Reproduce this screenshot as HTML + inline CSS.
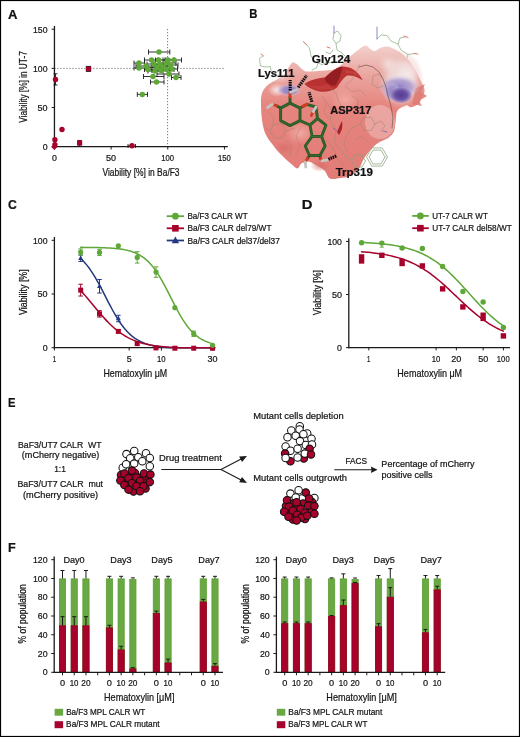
<!DOCTYPE html>
<html><head><meta charset="utf-8"><style>
html,body{margin:0;padding:0;background:#fff;}
body{width:520px;height:737px;overflow:hidden;}
svg{display:block;font-family:"Liberation Sans",sans-serif;will-change:transform;}
text{white-space:pre;stroke:#141414;stroke-width:0.22px;}
</style></head><body>
<svg width="520" height="737" viewBox="0 0 520 737">
<rect x="0" y="0" width="520" height="737" fill="#fff"/>
<text x="7.97" y="18.50" font-size="12.80" fill="#111" font-weight="bold" textLength="9.47" lengthAdjust="spacingAndGlyphs">A</text>
<line x1="54.45" y1="68.4" x2="224.44" y2="68.4" stroke="#555" stroke-width="1" stroke-dasharray="1 2"/>
<line x1="167.6" y1="29.20" x2="167.6" y2="146.70" stroke="#555" stroke-width="1" stroke-dasharray="1 2"/>
<line x1="54.45" y1="26.00" x2="54.45" y2="147.30" stroke="#1a1a1a" stroke-width="1.3" />
<line x1="53.85" y1="146.70" x2="227.80" y2="146.70" stroke="#1a1a1a" stroke-width="1.3" />
<line x1="51.65" y1="146.70" x2="54.45" y2="146.70" stroke="#1a1a1a" stroke-width="1.0" />
<line x1="54.45" y1="146.70" x2="54.45" y2="149.50" stroke="#1a1a1a" stroke-width="1.0" />
<line x1="51.65" y1="107.53" x2="54.45" y2="107.53" stroke="#1a1a1a" stroke-width="1.0" />
<line x1="111.12" y1="146.70" x2="111.12" y2="149.50" stroke="#1a1a1a" stroke-width="1.0" />
<line x1="51.65" y1="68.37" x2="54.45" y2="68.37" stroke="#1a1a1a" stroke-width="1.0" />
<line x1="167.78" y1="146.70" x2="167.78" y2="149.50" stroke="#1a1a1a" stroke-width="1.0" />
<line x1="51.65" y1="29.20" x2="54.45" y2="29.20" stroke="#1a1a1a" stroke-width="1.0" />
<line x1="224.44" y1="146.70" x2="224.44" y2="149.50" stroke="#1a1a1a" stroke-width="1.0" />
<text x="33.04" y="32.54" font-size="9.70" fill="#141414" textLength="14.50" lengthAdjust="spacingAndGlyphs">150</text>
<text x="33.04" y="71.71" font-size="9.70" fill="#141414" textLength="14.50" lengthAdjust="spacingAndGlyphs">100</text>
<text x="37.54" y="110.87" font-size="9.70" fill="#141414" textLength="10.01" lengthAdjust="spacingAndGlyphs">50</text>
<text x="42.66" y="150.04" font-size="9.70" fill="#141414" textLength="4.89" lengthAdjust="spacingAndGlyphs">0</text>
<text x="52.01" y="161.20" font-size="9.70" fill="#141414" textLength="4.89" lengthAdjust="spacingAndGlyphs">0</text>
<text x="106.10" y="161.20" font-size="9.70" fill="#141414" textLength="10.01" lengthAdjust="spacingAndGlyphs">50</text>
<text x="161.25" y="161.20" font-size="9.70" fill="#141414" textLength="12.78" lengthAdjust="spacingAndGlyphs">100</text>
<text x="217.91" y="161.20" font-size="9.70" fill="#141414" textLength="12.78" lengthAdjust="spacingAndGlyphs">150</text>
<text x="102.46" y="175.60" font-size="10.60" fill="#141414" textLength="77.11" lengthAdjust="spacingAndGlyphs">Viability [%] in Ba/F3</text>
<text x="-0.04" y="0" font-size="10.60" fill="#141414" textLength="71.35" lengthAdjust="spacingAndGlyphs" transform="translate(26.90 122.60) rotate(-90)">Viability [%] in UT-7</text>
<line x1="148.50" y1="52.00" x2="169.80" y2="52.00" stroke="#1a1a1a" stroke-width="0.9" />
<line x1="148.50" y1="49.50" x2="148.50" y2="54.50" stroke="#1a1a1a" stroke-width="0.9" />
<line x1="169.80" y1="49.50" x2="169.80" y2="54.50" stroke="#1a1a1a" stroke-width="0.9" />
<line x1="134.00" y1="63.00" x2="144.50" y2="63.00" stroke="#1a1a1a" stroke-width="0.9" />
<line x1="134.00" y1="60.50" x2="134.00" y2="65.50" stroke="#1a1a1a" stroke-width="0.9" />
<line x1="144.50" y1="60.50" x2="144.50" y2="65.50" stroke="#1a1a1a" stroke-width="0.9" />
<line x1="134.00" y1="68.00" x2="145.00" y2="68.00" stroke="#1a1a1a" stroke-width="0.9" />
<line x1="134.00" y1="65.50" x2="134.00" y2="70.50" stroke="#1a1a1a" stroke-width="0.9" />
<line x1="145.00" y1="65.50" x2="145.00" y2="70.50" stroke="#1a1a1a" stroke-width="0.9" />
<line x1="136.00" y1="66.00" x2="156.00" y2="66.00" stroke="#1a1a1a" stroke-width="0.9" />
<line x1="136.00" y1="63.50" x2="136.00" y2="68.50" stroke="#1a1a1a" stroke-width="0.9" />
<line x1="156.00" y1="63.50" x2="156.00" y2="68.50" stroke="#1a1a1a" stroke-width="0.9" />
<line x1="144.50" y1="69.50" x2="158.00" y2="69.50" stroke="#1a1a1a" stroke-width="0.9" />
<line x1="144.50" y1="67.00" x2="144.50" y2="72.00" stroke="#1a1a1a" stroke-width="0.9" />
<line x1="158.00" y1="67.00" x2="158.00" y2="72.00" stroke="#1a1a1a" stroke-width="0.9" />
<line x1="144.50" y1="60.00" x2="158.00" y2="60.00" stroke="#1a1a1a" stroke-width="0.9" />
<line x1="144.50" y1="57.50" x2="144.50" y2="62.50" stroke="#1a1a1a" stroke-width="0.9" />
<line x1="158.00" y1="57.50" x2="158.00" y2="62.50" stroke="#1a1a1a" stroke-width="0.9" />
<line x1="155.50" y1="60.00" x2="165.00" y2="60.00" stroke="#1a1a1a" stroke-width="0.9" />
<line x1="155.50" y1="57.50" x2="155.50" y2="62.50" stroke="#1a1a1a" stroke-width="0.9" />
<line x1="165.00" y1="57.50" x2="165.00" y2="62.50" stroke="#1a1a1a" stroke-width="0.9" />
<line x1="147.00" y1="64.00" x2="165.00" y2="64.00" stroke="#1a1a1a" stroke-width="0.9" />
<line x1="147.00" y1="61.50" x2="147.00" y2="66.50" stroke="#1a1a1a" stroke-width="0.9" />
<line x1="165.00" y1="61.50" x2="165.00" y2="66.50" stroke="#1a1a1a" stroke-width="0.9" />
<line x1="148.00" y1="67.50" x2="166.00" y2="67.50" stroke="#1a1a1a" stroke-width="0.9" />
<line x1="148.00" y1="65.00" x2="148.00" y2="70.00" stroke="#1a1a1a" stroke-width="0.9" />
<line x1="166.00" y1="65.00" x2="166.00" y2="70.00" stroke="#1a1a1a" stroke-width="0.9" />
<line x1="152.00" y1="64.50" x2="168.00" y2="64.50" stroke="#1a1a1a" stroke-width="0.9" />
<line x1="152.00" y1="62.00" x2="152.00" y2="67.00" stroke="#1a1a1a" stroke-width="0.9" />
<line x1="168.00" y1="62.00" x2="168.00" y2="67.00" stroke="#1a1a1a" stroke-width="0.9" />
<line x1="155.00" y1="67.00" x2="172.00" y2="67.00" stroke="#1a1a1a" stroke-width="0.9" />
<line x1="155.00" y1="64.50" x2="155.00" y2="69.50" stroke="#1a1a1a" stroke-width="0.9" />
<line x1="172.00" y1="64.50" x2="172.00" y2="69.50" stroke="#1a1a1a" stroke-width="0.9" />
<line x1="160.00" y1="63.00" x2="176.00" y2="63.00" stroke="#1a1a1a" stroke-width="0.9" />
<line x1="160.00" y1="60.50" x2="160.00" y2="65.50" stroke="#1a1a1a" stroke-width="0.9" />
<line x1="176.00" y1="60.50" x2="176.00" y2="65.50" stroke="#1a1a1a" stroke-width="0.9" />
<line x1="152.00" y1="70.50" x2="170.00" y2="70.50" stroke="#1a1a1a" stroke-width="0.9" />
<line x1="152.00" y1="68.00" x2="152.00" y2="73.00" stroke="#1a1a1a" stroke-width="0.9" />
<line x1="170.00" y1="68.00" x2="170.00" y2="73.00" stroke="#1a1a1a" stroke-width="0.9" />
<line x1="148.00" y1="71.00" x2="163.00" y2="71.00" stroke="#1a1a1a" stroke-width="0.9" />
<line x1="148.00" y1="68.50" x2="148.00" y2="73.50" stroke="#1a1a1a" stroke-width="0.9" />
<line x1="163.00" y1="68.50" x2="163.00" y2="73.50" stroke="#1a1a1a" stroke-width="0.9" />
<line x1="163.00" y1="60.00" x2="174.00" y2="60.00" stroke="#1a1a1a" stroke-width="0.9" />
<line x1="163.00" y1="57.50" x2="163.00" y2="62.50" stroke="#1a1a1a" stroke-width="0.9" />
<line x1="174.00" y1="57.50" x2="174.00" y2="62.50" stroke="#1a1a1a" stroke-width="0.9" />
<line x1="166.00" y1="60.00" x2="181.50" y2="60.00" stroke="#1a1a1a" stroke-width="0.9" />
<line x1="166.00" y1="57.50" x2="166.00" y2="62.50" stroke="#1a1a1a" stroke-width="0.9" />
<line x1="181.50" y1="57.50" x2="181.50" y2="62.50" stroke="#1a1a1a" stroke-width="0.9" />
<line x1="164.00" y1="65.00" x2="178.00" y2="65.00" stroke="#1a1a1a" stroke-width="0.9" />
<line x1="164.00" y1="62.50" x2="164.00" y2="67.50" stroke="#1a1a1a" stroke-width="0.9" />
<line x1="178.00" y1="62.50" x2="178.00" y2="67.50" stroke="#1a1a1a" stroke-width="0.9" />
<line x1="165.00" y1="69.00" x2="177.50" y2="69.00" stroke="#1a1a1a" stroke-width="0.9" />
<line x1="165.00" y1="66.50" x2="165.00" y2="71.50" stroke="#1a1a1a" stroke-width="0.9" />
<line x1="177.50" y1="66.50" x2="177.50" y2="71.50" stroke="#1a1a1a" stroke-width="0.9" />
<line x1="160.00" y1="69.50" x2="174.00" y2="69.50" stroke="#1a1a1a" stroke-width="0.9" />
<line x1="160.00" y1="67.00" x2="160.00" y2="72.00" stroke="#1a1a1a" stroke-width="0.9" />
<line x1="174.00" y1="67.00" x2="174.00" y2="72.00" stroke="#1a1a1a" stroke-width="0.9" />
<line x1="157.00" y1="74.00" x2="179.00" y2="74.00" stroke="#1a1a1a" stroke-width="0.9" />
<line x1="157.00" y1="71.50" x2="157.00" y2="76.50" stroke="#1a1a1a" stroke-width="0.9" />
<line x1="179.00" y1="71.50" x2="179.00" y2="76.50" stroke="#1a1a1a" stroke-width="0.9" />
<line x1="171.50" y1="77.50" x2="181.00" y2="77.50" stroke="#1a1a1a" stroke-width="0.9" />
<line x1="171.50" y1="75.00" x2="171.50" y2="80.00" stroke="#1a1a1a" stroke-width="0.9" />
<line x1="181.00" y1="75.00" x2="181.00" y2="80.00" stroke="#1a1a1a" stroke-width="0.9" />
<line x1="143.50" y1="76.50" x2="164.00" y2="76.50" stroke="#1a1a1a" stroke-width="0.9" />
<line x1="143.50" y1="74.00" x2="143.50" y2="79.00" stroke="#1a1a1a" stroke-width="0.9" />
<line x1="164.00" y1="74.00" x2="164.00" y2="79.00" stroke="#1a1a1a" stroke-width="0.9" />
<line x1="150.50" y1="82.00" x2="164.00" y2="82.00" stroke="#1a1a1a" stroke-width="0.9" />
<line x1="150.50" y1="79.50" x2="150.50" y2="84.50" stroke="#1a1a1a" stroke-width="0.9" />
<line x1="164.00" y1="79.50" x2="164.00" y2="84.50" stroke="#1a1a1a" stroke-width="0.9" />
<line x1="137.30" y1="94.40" x2="147.50" y2="94.40" stroke="#1a1a1a" stroke-width="0.9" />
<line x1="137.30" y1="91.90" x2="137.30" y2="96.90" stroke="#1a1a1a" stroke-width="0.9" />
<line x1="147.50" y1="91.90" x2="147.50" y2="96.90" stroke="#1a1a1a" stroke-width="0.9" />
<circle cx="159.00" cy="52.00" r="2.75" fill="#5ea838" stroke="none" stroke-width="0"/>
<circle cx="139.00" cy="63.00" r="2.75" fill="#5ea838" stroke="none" stroke-width="0"/>
<circle cx="139.00" cy="68.00" r="2.75" fill="#5ea838" stroke="none" stroke-width="0"/>
<circle cx="146.00" cy="66.00" r="2.75" fill="#5ea838" stroke="none" stroke-width="0"/>
<circle cx="148.00" cy="69.50" r="2.75" fill="#5ea838" stroke="none" stroke-width="0"/>
<circle cx="151.50" cy="60.00" r="2.75" fill="#5ea838" stroke="none" stroke-width="0"/>
<circle cx="158.50" cy="60.00" r="2.75" fill="#5ea838" stroke="none" stroke-width="0"/>
<circle cx="154.00" cy="64.00" r="2.75" fill="#5ea838" stroke="none" stroke-width="0"/>
<circle cx="157.00" cy="67.50" r="2.75" fill="#5ea838" stroke="none" stroke-width="0"/>
<circle cx="160.00" cy="64.50" r="2.75" fill="#5ea838" stroke="none" stroke-width="0"/>
<circle cx="163.00" cy="67.00" r="2.75" fill="#5ea838" stroke="none" stroke-width="0"/>
<circle cx="166.00" cy="63.00" r="2.75" fill="#5ea838" stroke="none" stroke-width="0"/>
<circle cx="161.00" cy="70.50" r="2.75" fill="#5ea838" stroke="none" stroke-width="0"/>
<circle cx="155.00" cy="71.00" r="2.75" fill="#5ea838" stroke="none" stroke-width="0"/>
<circle cx="168.00" cy="60.00" r="2.75" fill="#5ea838" stroke="none" stroke-width="0"/>
<circle cx="174.00" cy="60.00" r="2.75" fill="#5ea838" stroke="none" stroke-width="0"/>
<circle cx="170.50" cy="65.00" r="2.75" fill="#5ea838" stroke="none" stroke-width="0"/>
<circle cx="172.00" cy="69.00" r="2.75" fill="#5ea838" stroke="none" stroke-width="0"/>
<circle cx="166.50" cy="69.50" r="2.75" fill="#5ea838" stroke="none" stroke-width="0"/>
<circle cx="169.00" cy="74.00" r="2.75" fill="#5ea838" stroke="none" stroke-width="0"/>
<circle cx="176.00" cy="77.50" r="2.75" fill="#5ea838" stroke="none" stroke-width="0"/>
<circle cx="153.00" cy="76.50" r="2.75" fill="#5ea838" stroke="none" stroke-width="0"/>
<circle cx="156.50" cy="82.00" r="2.75" fill="#5ea838" stroke="none" stroke-width="0"/>
<circle cx="142.30" cy="94.40" r="2.75" fill="#5ea838" stroke="none" stroke-width="0"/>
<line x1="55.50" y1="73.80" x2="55.50" y2="85.00" stroke="#1a1a1a" stroke-width="0.9" />
<line x1="53.50" y1="73.80" x2="57.50" y2="73.80" stroke="#1a1a1a" stroke-width="0.9" />
<line x1="53.50" y1="85.00" x2="57.50" y2="85.00" stroke="#1a1a1a" stroke-width="0.9" />
<circle cx="55.50" cy="79.50" r="2.70" fill="#a6022c" stroke="none" stroke-width="0"/>
<rect x="85.80" y="66.20" width="5.40" height="5.40" fill="#a6022c" stroke="none" stroke-width="0"/>
<line x1="86.00" y1="66.40" x2="91.00" y2="66.40" stroke="#1a1a1a" stroke-width="0.8" />
<line x1="86.00" y1="71.40" x2="91.00" y2="71.40" stroke="#1a1a1a" stroke-width="0.8" />
<circle cx="62.00" cy="129.50" r="2.70" fill="#a6022c" stroke="none" stroke-width="0"/>
<circle cx="54.90" cy="139.70" r="2.70" fill="#a6022c" stroke="none" stroke-width="0"/>
<circle cx="54.90" cy="144.60" r="2.70" fill="#a6022c" stroke="none" stroke-width="0"/>
<path d="M54.3 143.7 L57.3 146.9 L54.3 150.1 L51.3 146.9 Z" fill="#a6022c"/>
<line x1="79.60" y1="140.50" x2="79.60" y2="146.00" stroke="#1a1a1a" stroke-width="0.9" />
<line x1="77.60" y1="140.50" x2="81.60" y2="140.50" stroke="#1a1a1a" stroke-width="0.9" />
<line x1="77.60" y1="146.00" x2="81.60" y2="146.00" stroke="#1a1a1a" stroke-width="0.9" />
<rect x="77.00" y="140.30" width="5.20" height="5.20" fill="#a6022c" stroke="none" stroke-width="0"/>
<line x1="128.00" y1="146.00" x2="135.50" y2="146.00" stroke="#1a1a1a" stroke-width="0.9" />
<line x1="128.00" y1="144.00" x2="128.00" y2="148.00" stroke="#1a1a1a" stroke-width="0.9" />
<line x1="135.50" y1="144.00" x2="135.50" y2="148.00" stroke="#1a1a1a" stroke-width="0.9" />
<circle cx="132.00" cy="145.80" r="2.70" fill="#a6022c" stroke="none" stroke-width="0"/>
<text x="249.24" y="18.40" font-size="12.80" fill="#111" font-weight="bold" textLength="8.17" lengthAdjust="spacingAndGlyphs">B</text>
<defs>
<linearGradient id="surfL" x1="0" y1="0" x2="0" y2="1">
<stop offset="0" stop-color="#f2d0cc"/><stop offset="0.22" stop-color="#eba6a0"/><stop offset="0.45" stop-color="#e6857f"/><stop offset="1" stop-color="#e27b76"/>
</linearGradient>
<radialGradient id="rightw" cx="0.5" cy="0.5" r="0.5">
<stop offset="0" stop-color="#f1e9e9" stop-opacity="1"/><stop offset="0.55" stop-color="#eed9d7" stop-opacity="0.9"/><stop offset="1" stop-color="#e8b5b0" stop-opacity="0"/>
</radialGradient>
<radialGradient id="purp" cx="0.5" cy="0.5" r="0.5">
<stop offset="0" stop-color="#553a92"/><stop offset="0.55" stop-color="#6a52a4"/><stop offset="0.85" stop-color="#8c7cbf" stop-opacity="0.7"/><stop offset="1" stop-color="#b9add6" stop-opacity="0"/>
</radialGradient>
<radialGradient id="purp2" cx="0.5" cy="0.5" r="0.5">
<stop offset="0" stop-color="#8f7fc2"/><stop offset="0.6" stop-color="#a898cf" stop-opacity="0.8"/><stop offset="1" stop-color="#d8d0e8" stop-opacity="0"/>
</radialGradient>
<radialGradient id="hl" cx="0.5" cy="0.5" r="0.5">
<stop offset="0" stop-color="#f2aaa3" stop-opacity="0.95"/><stop offset="1" stop-color="#f2aaa3" stop-opacity="0"/>
</radialGradient>
<radialGradient id="wh" cx="0.5" cy="0.5" r="0.5">
<stop offset="0" stop-color="#f6ecec" stop-opacity="0.95"/><stop offset="1" stop-color="#f6ecec" stop-opacity="0"/>
</radialGradient>
<radialGradient id="dk" cx="0.5" cy="0.5" r="0.5">
<stop offset="0" stop-color="#d46a66" stop-opacity="0.7"/><stop offset="1" stop-color="#d46a66" stop-opacity="0"/>
</radialGradient>
</defs>
<path d="M263.00 56.00 L259.50 58.50 L260.50 66.00 L266.00 67.00 L270.50 66.50 L271.00 72.00 L274.00 75.00" fill="none" stroke="#90ad88" stroke-width="0.75" stroke-linejoin="round" stroke-linecap="round" />
<path d="M306.00 44.00 L309.50 48.00 L311.00 56.00 L314.50 61.00 L318.00 63.00 L322.00 64.50" fill="none" stroke="#90ad88" stroke-width="0.75" stroke-linejoin="round" stroke-linecap="round" />
<path d="M318.00 63.00 L316.50 68.00 L312.00 70.00" fill="none" stroke="#90ad88" stroke-width="0.75" stroke-linejoin="round" stroke-linecap="round" />
<path d="M322.00 64.50 L327.00 62.00 L333.00 63.00" fill="none" stroke="#90ad88" stroke-width="0.75" stroke-linejoin="round" stroke-linecap="round" />
<path d="M334.00 33.00 L337.50 31.00 L341.00 35.50 L340.00 41.00 L336.00 43.50 L333.00 39.50 L334.00 33.00" fill="none" stroke="#90ad88" stroke-width="0.75" stroke-linejoin="round" stroke-linecap="round" />
<path d="M336.00 43.50 L337.00 50.00 L342.00 53.00" fill="none" stroke="#90ad88" stroke-width="0.75" stroke-linejoin="round" stroke-linecap="round" />
<path d="M326.00 52.00 L330.00 54.00 L333.00 50.00" fill="none" stroke="#90ad88" stroke-width="0.75" stroke-linejoin="round" stroke-linecap="round" />
<path d="M377.00 39.00 L381.00 35.00 L387.00 35.50 L391.00 41.00 L398.00 44.00 L401.00 50.00 L408.00 54.50 L415.00 53.50" fill="none" stroke="#90ad88" stroke-width="0.75" stroke-linejoin="round" stroke-linecap="round" />
<path d="M408.00 54.50 L406.00 61.00 L401.00 66.00 L397.00 70.50 L399.00 75.00 L395.00 80.00" fill="none" stroke="#90ad88" stroke-width="0.75" stroke-linejoin="round" stroke-linecap="round" />
<path d="M398.00 44.00 L400.00 38.00 L405.00 37.00" fill="none" stroke="#90ad88" stroke-width="0.75" stroke-linejoin="round" stroke-linecap="round" />
<path d="M342.00 53.00 L345.00 56.00" fill="none" stroke="#90ad88" stroke-width="0.75" stroke-linejoin="round" stroke-linecap="round" />
<path d="M303.50 41.50 L306.00 44.50" fill="none" stroke="#e06a5a" stroke-width="0.9" stroke-linejoin="round" stroke-linecap="round" />
<path d="M404.00 36.00 L408.00 37.50" fill="none" stroke="#e06a5a" stroke-width="0.9" stroke-linejoin="round" stroke-linecap="round" />
<path d="M261.00 54.00 L263.50 56.00" fill="none" stroke="#e06a5a" stroke-width="0.9" stroke-linejoin="round" stroke-linecap="round" />
<path d="M377.00 27.00 L377.00 39.00" fill="none" stroke="#7c7cc4" stroke-width="0.9" stroke-linejoin="round" stroke-linecap="round" />
<path d="M334.00 26.00 L334.00 33.00" fill="none" stroke="#7c7cc4" stroke-width="0.9" stroke-linejoin="round" stroke-linecap="round" />
<path d="M414.00 53.50 L418.00 54.00" fill="none" stroke="#e06a5a" stroke-width="0.9" stroke-linejoin="round" stroke-linecap="round" />
<path d="M327.00 47.00 L330.00 48.00" fill="none" stroke="#e06a5a" stroke-width="0.9" stroke-linejoin="round" stroke-linecap="round" />
<path d="M261.00 104.00 C260.92 99.83 260.92 97.58 261.50 95.00 C262.08 92.42 263.00 90.50 264.50 88.50 C266.00 86.50 268.25 84.58 270.50 83.00 C272.75 81.42 275.67 80.50 278.00 79.00 C280.33 77.50 282.75 75.92 284.50 74.00 C286.25 72.08 287.17 69.42 288.50 67.50 C289.83 65.58 291.30 63.15 292.50 62.50 C293.70 61.85 294.60 62.98 295.70 63.60 C296.80 64.22 297.63 64.97 299.10 66.20 C300.57 67.43 302.68 70.12 304.50 71.00 C306.32 71.88 307.75 71.50 310.00 71.50 C312.25 71.50 315.33 71.17 318.00 71.00 C320.67 70.83 323.33 70.75 326.00 70.50 C328.67 70.25 331.50 70.42 334.00 69.50 C336.50 68.58 338.83 66.83 341.00 65.00 C343.17 63.17 345.17 60.17 347.00 58.50 C348.83 56.83 350.17 56.42 352.00 55.00 C353.83 53.58 355.77 51.60 358.00 50.00 C360.23 48.40 363.23 45.48 365.40 45.40 C367.57 45.32 369.40 48.57 371.00 49.50 C372.60 50.43 373.50 51.25 375.00 51.00 C376.50 50.75 378.17 48.75 380.00 48.00 C381.83 47.25 384.17 46.58 386.00 46.50 C387.83 46.42 388.60 46.50 391.00 47.50 C393.40 48.50 397.48 50.38 400.40 52.50 C403.32 54.62 406.27 57.57 408.50 60.20 C410.73 62.83 412.23 65.83 413.80 68.30 C415.37 70.77 416.55 72.55 417.90 75.00 C419.25 77.45 420.78 80.32 421.90 83.00 C423.02 85.68 424.75 88.43 424.60 91.10 C424.45 93.77 421.90 96.97 421.00 99.00 C420.10 101.03 420.85 101.92 419.20 103.30 C417.55 104.68 413.28 106.95 411.10 107.30 C408.92 107.65 408.37 104.85 406.10 105.40 C403.83 105.95 399.23 108.00 397.50 110.60 C395.77 113.20 396.28 117.55 395.70 121.00 C395.12 124.45 395.15 128.57 394.00 131.30 C392.85 134.03 391.10 135.67 388.80 137.40 C386.50 139.13 382.78 140.12 380.20 141.70 C377.62 143.28 375.90 144.30 373.30 146.90 C370.70 149.50 366.92 153.83 364.60 157.30 C362.28 160.77 361.83 164.58 359.40 167.70 C356.97 170.82 353.23 174.28 350.00 176.00 C346.77 177.72 343.33 177.58 340.00 178.00 C336.67 178.42 332.63 179.80 330.00 178.50 C327.37 177.20 326.60 172.45 324.20 170.20 C321.80 167.95 318.20 166.45 315.60 165.00 C313.00 163.55 310.92 161.78 308.60 161.50 C306.28 161.22 303.57 162.15 301.70 163.30 C299.83 164.45 299.13 168.27 297.40 168.40 C295.67 168.53 294.03 166.40 291.30 164.10 C288.57 161.80 284.17 157.92 281.00 154.60 C277.83 151.28 274.90 147.67 272.30 144.20 C269.70 140.73 267.12 137.83 265.40 133.80 C263.68 129.77 262.73 124.97 262.00 120.00 C261.27 115.03 261.08 108.17 261.00 104.00 Z" fill="url(#surfL)"/>
<ellipse cx="401" cy="80" rx="23" ry="30" fill="url(#rightw)" opacity="0.95"/>
<ellipse cx="408" cy="74" rx="12" ry="14" fill="url(#wh)" opacity="0.8"/>
<ellipse cx="380" cy="122" rx="15" ry="17" fill="#efc6c1" opacity="0.5"/>
<ellipse cx="388" cy="64" rx="10" ry="9" fill="url(#wh)" opacity="0.7"/>
<ellipse cx="300" cy="133" rx="15" ry="11" fill="url(#hl)"/>
<ellipse cx="345" cy="100" rx="14" ry="12" fill="url(#hl)"/>
<ellipse cx="352" cy="70" rx="10" ry="7" fill="url(#hl)"/>
<ellipse cx="284" cy="148" rx="10" ry="7" fill="url(#dk)"/>
<ellipse cx="320" cy="166" rx="10" ry="6" fill="url(#dk)"/>
<path d="M416 88 L425 84 L421 92 L427 96 L419 101 L422 106 L412 104 Z" fill="#de7a74" opacity="0.85"/>
<ellipse cx="277" cy="90" rx="9" ry="7" fill="url(#wh)"/>
<ellipse cx="280" cy="76" rx="14" ry="8" fill="url(#wh)" opacity="0.6"/>
<ellipse cx="289" cy="90" rx="13" ry="6.5" fill="url(#purp2)"/>
<ellipse cx="290" cy="90.5" rx="7" ry="4" fill="#9484c4" opacity="0.6"/>
<ellipse cx="399" cy="87" rx="21" ry="12" fill="url(#purp2)"/>
<ellipse cx="392" cy="92" rx="9" ry="10" fill="url(#purp2)"/>
<ellipse cx="401" cy="95" rx="11.5" ry="8.5" fill="url(#purp)"/>
<path d="M359.00 67.00 L366.00 65.00 L373.00 67.00 L379.00 72.00 L383.00 79.00 L386.00 87.00 L388.00 96.00 L391.00 106.00 L393.00 118.00 L392.00 128.00" fill="none" stroke="#6e4d4d" stroke-width="0.9" stroke-linejoin="round" stroke-linecap="round" opacity="0.75"/>
<path d="M304.5 84 C310 80 318 78 324.5 77.5 C331 72 336 67.5 342.5 66.5 C350 66.5 357 69.5 363 80.5 C358 77 352 75 347 75.5 C343 78 340 83 337 87.5 C332 91.5 325 92.5 319.5 91.5 C313 90 308 87.5 304.5 84 Z" fill="#b93131"/>
<path d="M324.5 79 C330 73 335.5 68 342.5 66.5 C341.5 73 339 80 335.5 85.5 C331 86 327 84 324.5 79 Z" fill="#931d21"/>
<path d="M309 85 C315 86.5 322 86.5 328 84 L331 88 C324 91 315 90 309 85 Z" fill="#c94545" opacity="0.6"/>
<path d="M345 70 C351 70 356 72 360 76 C355 74 350 73 346 73.5 Z" fill="#cc4a4a" opacity="0.6"/>
<path d="M342 121 C343 126 342 131 339 135 L337 132 C339 128 340 124 342 121 Z" fill="#a82226"/>
<path d="M330.00 88.00 L336.00 93.00 L338.00 100.00 L342.00 108.00" fill="none" stroke="#a08672" stroke-width="0.7" stroke-linejoin="round" stroke-linecap="round" opacity="0.8"/>
<path d="M352.00 96.00 L358.00 100.00 L357.00 108.00 L363.00 112.00" fill="none" stroke="#a08672" stroke-width="0.7" stroke-linejoin="round" stroke-linecap="round" opacity="0.8"/>
<path d="M375.00 124.00 L371.25 130.50 L363.75 130.50 L360.00 124.00 L363.75 117.50 L371.25 117.50 L375.00 124.00" fill="none" stroke="#a08672" stroke-width="0.7" stroke-linejoin="round" stroke-linecap="round" opacity="0.8"/>
<path d="M375.00 124.00 L381.00 121.00 L385.00 126.00 L381.00 131.00" fill="none" stroke="#a08672" stroke-width="0.7" stroke-linejoin="round" stroke-linecap="round" opacity="0.8"/>
<path d="M360.00 124.00 L352.00 128.00 L346.00 136.00 L344.00 146.00 L348.00 152.00" fill="none" stroke="#a08672" stroke-width="0.7" stroke-linejoin="round" stroke-linecap="round" opacity="0.8"/>
<path d="M286.00 131.00 L282.00 137.93 L274.00 137.93 L270.00 131.00 L274.00 124.07 L282.00 124.07 L286.00 131.00" fill="none" stroke="#a08672" stroke-width="0.7" stroke-linejoin="round" stroke-linecap="round" opacity="0.8"/>
<path d="M270.00 131.00 L264.00 127.00" fill="none" stroke="#a08672" stroke-width="0.7" stroke-linejoin="round" stroke-linecap="round" opacity="0.8"/>
<path d="M286.00 131.00 L295.00 128.00" fill="none" stroke="#a08672" stroke-width="0.7" stroke-linejoin="round" stroke-linecap="round" opacity="0.8"/>
<path d="M383.00 79.00 L378.00 74.00 L373.00 76.00 L372.00 84.00 L378.00 88.00 L383.00 86.00" fill="none" stroke="#a08672" stroke-width="0.7" stroke-linejoin="round" stroke-linecap="round" opacity="0.8"/>
<path d="M300.00 120.00 L306.00 126.00" fill="none" stroke="#a08672" stroke-width="0.7" stroke-linejoin="round" stroke-linecap="round" opacity="0.8"/>
<path d="M325.00 100.00 L332.00 110.00 L330.00 120.00 L336.00 130.00 L334.00 142.00 L340.00 150.00" fill="none" stroke="#a08672" stroke-width="0.7" stroke-linejoin="round" stroke-linecap="round" opacity="0.8"/>
<path d="M322.00 96.00 L326.00 104.00 L324.00 112.00 L328.00 118.00" fill="none" stroke="#a07f70" stroke-width="0.6" stroke-linejoin="round" stroke-linecap="round" opacity="0.7"/>
<path d="M300.00 128.00 L296.00 136.00 L300.00 146.00 L296.00 154.00" fill="none" stroke="#a07f70" stroke-width="0.6" stroke-linejoin="round" stroke-linecap="round" opacity="0.7"/>
<path d="M268.00 112.00 L274.00 118.00 L272.00 126.00" fill="none" stroke="#a07f70" stroke-width="0.6" stroke-linejoin="round" stroke-linecap="round" opacity="0.7"/>
<path d="M345.00 86.00 L352.00 92.00 L360.00 90.00 L366.00 96.00" fill="none" stroke="#a07f70" stroke-width="0.6" stroke-linejoin="round" stroke-linecap="round" opacity="0.7"/>
<path d="M326.00 140.00 L332.00 146.00 L338.00 160.00 L344.00 166.00" fill="none" stroke="#a07f70" stroke-width="0.6" stroke-linejoin="round" stroke-linecap="round" opacity="0.7"/>
<path d="M355.00 140.00 L362.00 136.00 L368.00 142.00" fill="none" stroke="#a07f70" stroke-width="0.6" stroke-linejoin="round" stroke-linecap="round" opacity="0.7"/>
<path d="M285.00 140.00 L292.00 146.00 L290.00 156.00" fill="none" stroke="#a07f70" stroke-width="0.6" stroke-linejoin="round" stroke-linecap="round" opacity="0.7"/>
<path d="M360.00 64.00 L356.00 72.00 L352.00 80.00 L346.00 84.00" fill="none" stroke="#a07f70" stroke-width="0.6" stroke-linejoin="round" stroke-linecap="round" opacity="0.7"/>
<path d="M333.00 128.00 L337.00 131.00" fill="none" stroke="#8a60b0" stroke-width="0.9" stroke-linejoin="round" stroke-linecap="round" />
<path d="M383.00 131.00 L387.00 132.00" fill="none" stroke="#8a60b0" stroke-width="0.9" stroke-linejoin="round" stroke-linecap="round" />
<path d="M365.50 161.00 L362.00 167.06 L355.00 167.06 L351.50 161.00 L355.00 154.94 L362.00 154.94 L365.50 161.00" fill="none" stroke="#8aa27c" stroke-width="0.75" stroke-linejoin="round" stroke-linecap="round" />
<path d="M387.50 157.00 L382.25 166.09 L371.75 166.09 L366.50 157.00 L371.75 147.91 L382.25 147.91 L387.50 157.00" fill="none" stroke="#8aa27c" stroke-width="0.75" stroke-linejoin="round" stroke-linecap="round" />
<path d="M385.00 157.00 L381.00 163.93 L373.00 163.93 L369.00 157.00 L373.00 150.07 L381.00 150.07 L385.00 157.00" fill="none" stroke="#8aa27c" stroke-width="0.75" stroke-linejoin="round" stroke-linecap="round" />
<path d="M351.50 161.00 L346.00 157.00 L342.00 151.00" fill="none" stroke="#8aa27c" stroke-width="0.75" stroke-linejoin="round" stroke-linecap="round" />
<path d="M290.00 103.10 L300.00 108.10 L300.00 120.60 L290.00 125.60 L280.60 120.60 L280.60 108.10 L290.00 103.10" fill="none" stroke="#2c5a27" stroke-width="2.9" stroke-linejoin="round" stroke-linecap="round" />
<path d="M300.00 108.10 L307.00 104.30 L316.00 107.00 L317.50 118.50 L310.00 125.00 L300.00 120.60" fill="none" stroke="#2c5a27" stroke-width="2.9" stroke-linejoin="round" stroke-linecap="round" />
<path d="M310.00 125.00 L317.50 118.50 L325.90 125.20 L321.60 136.40 L312.10 136.40 L310.00 125.00" fill="none" stroke="#2c5a27" stroke-width="2.9" stroke-linejoin="round" stroke-linecap="round" />
<path d="M312.10 136.40 L321.60 136.40 L325.10 146.00 L319.90 155.50 L309.50 155.50 L305.20 146.00 L312.10 136.40" fill="none" stroke="#2c5a27" stroke-width="2.9" stroke-linejoin="round" stroke-linecap="round" />
<path d="M290.00 103.10 L290.00 97.00" fill="none" stroke="#2c5a27" stroke-width="2.9" stroke-linejoin="round" stroke-linecap="round" />
<path d="M280.60 108.10 L276.50 105.80" fill="none" stroke="#2c5a27" stroke-width="2.9" stroke-linejoin="round" stroke-linecap="round" />
<path d="M309.50 155.50 L307.50 158.50" fill="none" stroke="#2c5a27" stroke-width="2.9" stroke-linejoin="round" stroke-linecap="round" />
<path d="M319.90 155.50 L320.50 158.50" fill="none" stroke="#2c5a27" stroke-width="2.9" stroke-linejoin="round" stroke-linecap="round" />
<path d="M290.00 103.10 L300.00 108.10 L300.00 120.60 L290.00 125.60 L280.60 120.60 L280.60 108.10 L290.00 103.10" fill="none" stroke="#4a7a3c" stroke-width="0.7" stroke-linejoin="round" stroke-linecap="round" opacity="0.6"/>
<path d="M300.00 108.10 L307.00 104.30 L316.00 107.00 L317.50 118.50 L310.00 125.00 L300.00 120.60" fill="none" stroke="#4a7a3c" stroke-width="0.7" stroke-linejoin="round" stroke-linecap="round" opacity="0.6"/>
<path d="M310.00 125.00 L317.50 118.50 L325.90 125.20 L321.60 136.40 L312.10 136.40 L310.00 125.00" fill="none" stroke="#4a7a3c" stroke-width="0.7" stroke-linejoin="round" stroke-linecap="round" opacity="0.6"/>
<path d="M312.10 136.40 L321.60 136.40 L325.10 146.00 L319.90 155.50 L309.50 155.50 L305.20 146.00 L312.10 136.40" fill="none" stroke="#4a7a3c" stroke-width="0.7" stroke-linejoin="round" stroke-linecap="round" opacity="0.6"/>
<path d="M290.00 97.00 L290.00 92.50" fill="none" stroke="#d33a22" stroke-width="2.8" stroke-linejoin="round" stroke-linecap="round" />
<path d="M290.50 92.30 L296.50 89.80" fill="none" stroke="#c4c4c4" stroke-width="2.8" stroke-linejoin="round" stroke-linecap="round" />
<path d="M276.50 105.80 L272.50 104.20" fill="none" stroke="#d33a22" stroke-width="2.8" stroke-linejoin="round" stroke-linecap="round" />
<path d="M272.50 104.20 L267.50 107.50" fill="none" stroke="#c4c4c4" stroke-width="2.8" stroke-linejoin="round" stroke-linecap="round" />
<path d="M307.50 158.50 L305.20 162.00" fill="none" stroke="#d33a22" stroke-width="2.8" stroke-linejoin="round" stroke-linecap="round" />
<path d="M305.20 162.00 L305.80 167.00" fill="none" stroke="#c4c4c4" stroke-width="2.8" stroke-linejoin="round" stroke-linecap="round" />
<path d="M320.50 158.50 L321.80 160.80" fill="none" stroke="#d33a22" stroke-width="2.8" stroke-linejoin="round" stroke-linecap="round" />
<path d="M321.80 160.80 L327.50 159.80" fill="none" stroke="#c4c4c4" stroke-width="2.8" stroke-linejoin="round" stroke-linecap="round" />
<path d="M313.20 111.50 L311.30 115.50" fill="none" stroke="#d33a22" stroke-width="2.8" stroke-linejoin="round" stroke-linecap="round" />
<path d="M316.00 107.00 L313.20 111.50" fill="none" stroke="#c4c4c4" stroke-width="2.8" stroke-linejoin="round" stroke-linecap="round" />
<path d="M307.00 104.30 L303.00 106.30" fill="none" stroke="#d33a22" stroke-width="2.8" stroke-linejoin="round" stroke-linecap="round" />
<path d="M290.2 90.5 L290.2 80.0" stroke="#0d0d0d" stroke-width="3.1" stroke-dasharray="1.55 0.75" fill="none"/>
<path d="M298.2 87.3 L306.6 75.5" stroke="#0d0d0d" stroke-width="3.1" stroke-dasharray="1.55 0.75" fill="none"/>
<path d="M311.9 101.9 L309.0 92.3" stroke="#0d0d0d" stroke-width="3.1" stroke-dasharray="1.55 0.75" fill="none"/>
<path d="M328.5 159.3 L336.5 155.8" stroke="#0d0d0d" stroke-width="3.1" stroke-dasharray="1.55 0.75" fill="none"/>
<text x="257.98" y="77.20" font-size="11.00" fill="#111" font-weight="bold" textLength="36.52" lengthAdjust="spacingAndGlyphs">Lys111</text>
<text x="311.82" y="62.70" font-size="11.00" fill="#111" font-weight="bold" textLength="38.44" lengthAdjust="spacingAndGlyphs">Gly124</text>
<text x="330.22" y="113.60" font-size="11.00" fill="#111" font-weight="bold" textLength="41.16" lengthAdjust="spacingAndGlyphs">ASP317</text>
<text x="335.67" y="175.50" font-size="11.00" fill="#111" font-weight="bold" textLength="37.15" lengthAdjust="spacingAndGlyphs">Trp319</text>
<text x="7.90" y="208.60" font-size="12.80" fill="#111" font-weight="bold" textLength="8.84" lengthAdjust="spacingAndGlyphs">C</text>
<line x1="54.40" y1="237.00" x2="54.40" y2="348.30" stroke="#1a1a1a" stroke-width="1.3" />
<line x1="53.80" y1="347.70" x2="215.50" y2="347.70" stroke="#1a1a1a" stroke-width="1.3" />
<line x1="51.60" y1="347.70" x2="54.40" y2="347.70" stroke="#1a1a1a" stroke-width="1.0" />
<line x1="51.60" y1="294.00" x2="54.40" y2="294.00" stroke="#1a1a1a" stroke-width="1.0" />
<line x1="51.60" y1="240.30" x2="54.40" y2="240.30" stroke="#1a1a1a" stroke-width="1.0" />
<line x1="54.40" y1="347.70" x2="54.40" y2="350.50" stroke="#1a1a1a" stroke-width="1.0" />
<line x1="129.19" y1="347.70" x2="129.19" y2="350.50" stroke="#1a1a1a" stroke-width="1.0" />
<line x1="161.40" y1="347.70" x2="161.40" y2="350.50" stroke="#1a1a1a" stroke-width="1.0" />
<line x1="212.45" y1="347.70" x2="212.45" y2="350.50" stroke="#1a1a1a" stroke-width="1.0" />
<text x="33.04" y="243.64" font-size="9.70" fill="#141414" textLength="14.50" lengthAdjust="spacingAndGlyphs">100</text>
<text x="37.54" y="297.34" font-size="9.70" fill="#141414" textLength="10.01" lengthAdjust="spacingAndGlyphs">50</text>
<text x="42.66" y="351.04" font-size="9.70" fill="#141414" textLength="4.89" lengthAdjust="spacingAndGlyphs">0</text>
<text x="52.64" y="361.70" font-size="9.70" fill="#141414" textLength="3.35" lengthAdjust="spacingAndGlyphs">1</text>
<text x="126.74" y="361.70" font-size="9.70" fill="#141414" textLength="4.93" lengthAdjust="spacingAndGlyphs">5</text>
<text x="156.96" y="361.70" font-size="9.70" fill="#141414" textLength="8.59" lengthAdjust="spacingAndGlyphs">10</text>
<text x="207.46" y="361.70" font-size="9.70" fill="#141414" textLength="9.99" lengthAdjust="spacingAndGlyphs">30</text>
<text x="103.47" y="376.80" font-size="10.60" fill="#141414" textLength="63.65" lengthAdjust="spacingAndGlyphs">Hematoxylin μM</text>
<text x="-0.04" y="0" font-size="10.60" fill="#141414" textLength="45.77" lengthAdjust="spacingAndGlyphs" transform="translate(26.90 315.00) rotate(-90)">Viability [%]</text>
<path d="M80.67 258.51 L82.32 260.07 L83.96 261.78 L85.61 263.63 L87.26 265.63 L88.91 267.79 L90.55 270.10 L92.20 272.57 L93.85 275.17 L95.50 277.92 L97.14 280.78 L98.79 283.76 L100.44 286.83 L102.08 289.97 L103.73 293.16 L105.38 296.38 L107.03 299.60 L108.67 302.79 L110.32 305.94 L111.97 309.02 L113.62 312.00 L115.26 314.88 L116.91 317.64 L118.56 320.26 L120.20 322.73 L121.85 325.06 L123.50 327.23 L125.15 329.25 L126.79 331.11 L128.44 332.83 L130.09 334.41 L131.74 335.85 L133.38 337.16 L135.03 338.35 L136.68 339.42 L138.32 340.40 L139.97 341.27 L141.62 342.06 L143.27 342.76 L144.91 343.39 L146.56 343.96 L148.21 344.46 L149.86 344.91 L151.50 345.31 L153.15 345.67 L154.80 345.99 L156.44 346.27 L158.09 346.52 L159.74 346.74 L161.39 346.94 L163.03 347.11 L164.68 347.27 L166.33 347.40 L167.98 347.52 L169.62 347.63 L171.27 347.70 L172.92 347.70 L174.56 347.70 L176.21 347.70 L177.86 347.70 L179.51 347.70 L181.15 347.70 L182.80 347.70 L184.45 347.70 L186.10 347.70 L187.74 347.70 L189.39 347.70 L191.04 347.70 L192.68 347.70 L194.33 347.70 L195.98 347.70 L197.63 347.70 L199.27 347.70 L200.92 347.70 L202.57 347.70 L204.22 347.70 L205.86 347.70 L207.51 347.70 L209.16 347.70 L210.80 347.70 L212.45 347.70" fill="none" stroke="#22397f" stroke-width="1.5" stroke-linejoin="round" stroke-linecap="round" />
<path d="M80.67 290.58 L82.32 292.38 L83.96 294.23 L85.61 296.12 L87.26 298.05 L88.91 300.00 L90.55 301.98 L92.20 303.97 L93.85 305.96 L95.50 307.95 L97.14 309.93 L98.79 311.89 L100.44 313.82 L102.08 315.71 L103.73 317.56 L105.38 319.37 L107.03 321.12 L108.67 322.81 L110.32 324.43 L111.97 325.99 L113.62 327.49 L115.26 328.91 L116.91 330.27 L118.56 331.55 L120.20 332.76 L121.85 333.90 L123.50 334.98 L125.15 335.99 L126.79 336.93 L128.44 337.82 L130.09 338.64 L131.74 339.40 L133.38 340.12 L135.03 340.78 L136.68 341.39 L138.32 341.96 L139.97 342.48 L141.62 342.97 L143.27 343.41 L144.91 343.82 L146.56 344.20 L148.21 344.55 L149.86 344.87 L151.50 345.17 L153.15 345.44 L154.80 345.69 L156.44 345.91 L158.09 346.12 L159.74 346.31 L161.39 346.49 L163.03 346.65 L164.68 346.79 L166.33 346.93 L167.98 347.05 L169.62 347.16 L171.27 347.27 L172.92 347.36 L174.56 347.45 L176.21 347.52 L177.86 347.60 L179.51 347.66 L181.15 347.70 L182.80 347.70 L184.45 347.70 L186.10 347.70 L187.74 347.70 L189.39 347.70 L191.04 347.70 L192.68 347.70 L194.33 347.70 L195.98 347.70 L197.63 347.70 L199.27 347.70 L200.92 347.70 L202.57 347.70 L204.22 347.70 L205.86 347.70 L207.51 347.70 L209.16 347.70 L210.80 347.70 L212.45 347.70" fill="none" stroke="#a6022c" stroke-width="1.5" stroke-linejoin="round" stroke-linecap="round" />
<path d="M80.67 247.36 L82.32 247.37 L83.96 247.38 L85.61 247.40 L87.26 247.41 L88.91 247.43 L90.55 247.45 L92.20 247.47 L93.85 247.50 L95.50 247.53 L97.14 247.57 L98.79 247.61 L100.44 247.65 L102.08 247.70 L103.73 247.76 L105.38 247.83 L107.03 247.91 L108.67 247.99 L110.32 248.09 L111.97 248.21 L113.62 248.33 L115.26 248.48 L116.91 248.65 L118.56 248.83 L120.20 249.05 L121.85 249.29 L123.50 249.57 L125.15 249.88 L126.79 250.23 L128.44 250.63 L130.09 251.08 L131.74 251.59 L133.38 252.17 L135.03 252.81 L136.68 253.54 L138.32 254.35 L139.97 255.27 L141.62 256.28 L143.27 257.42 L144.91 258.68 L146.56 260.07 L148.21 261.60 L149.86 263.29 L151.50 265.13 L153.15 267.13 L154.80 269.30 L156.44 271.64 L158.09 274.13 L159.74 276.78 L161.39 279.58 L163.03 282.51 L164.68 285.55 L166.33 288.69 L167.98 291.90 L169.62 295.15 L171.27 298.42 L172.92 301.68 L174.56 304.90 L176.21 308.06 L177.86 311.12 L179.51 314.08 L181.15 316.91 L182.80 319.59 L184.45 322.13 L186.10 324.50 L187.74 326.71 L189.39 328.75 L191.04 330.63 L192.68 332.35 L194.33 333.92 L195.98 335.34 L197.63 336.63 L199.27 337.80 L200.92 338.84 L202.57 339.78 L204.22 340.61 L205.86 341.36 L207.51 342.02 L209.16 342.62 L210.80 343.14 L212.45 343.60" fill="none" stroke="#5ea838" stroke-width="1.5" stroke-linejoin="round" stroke-linecap="round" />
<line x1="80.67" y1="255.01" x2="80.67" y2="261.46" stroke="#22397f" stroke-width="1.0" />
<line x1="78.42" y1="255.01" x2="82.92" y2="255.01" stroke="#22397f" stroke-width="1.0" />
<line x1="78.42" y1="261.46" x2="82.92" y2="261.46" stroke="#22397f" stroke-width="1.0" />
<path d="M80.67 255.54 L83.17 260.04 L78.17 260.04 Z" fill="#22397f"/>
<line x1="99.51" y1="279.50" x2="99.51" y2="293.03" stroke="#22397f" stroke-width="1.0" />
<line x1="97.26" y1="279.50" x2="101.76" y2="279.50" stroke="#22397f" stroke-width="1.0" />
<line x1="97.26" y1="293.03" x2="101.76" y2="293.03" stroke="#22397f" stroke-width="1.0" />
<path d="M99.51 283.57 L102.01 288.07 L97.01 288.07 Z" fill="#22397f"/>
<line x1="118.35" y1="315.27" x2="118.35" y2="321.71" stroke="#22397f" stroke-width="1.0" />
<line x1="116.10" y1="315.27" x2="120.60" y2="315.27" stroke="#22397f" stroke-width="1.0" />
<line x1="116.10" y1="321.71" x2="120.60" y2="321.71" stroke="#22397f" stroke-width="1.0" />
<path d="M118.35 315.79 L120.85 320.29 L115.85 320.29 Z" fill="#22397f"/>
<line x1="80.67" y1="284.23" x2="80.67" y2="296.04" stroke="#a6022c" stroke-width="1.0" />
<line x1="78.42" y1="284.23" x2="82.92" y2="284.23" stroke="#a6022c" stroke-width="1.0" />
<line x1="78.42" y1="296.04" x2="82.92" y2="296.04" stroke="#a6022c" stroke-width="1.0" />
<rect x="78.17" y="287.63" width="5.00" height="5.00" fill="#a6022c" stroke="none" stroke-width="0"/>
<line x1="99.51" y1="310.65" x2="99.51" y2="317.09" stroke="#a6022c" stroke-width="1.0" />
<line x1="97.26" y1="310.65" x2="101.76" y2="310.65" stroke="#a6022c" stroke-width="1.0" />
<line x1="97.26" y1="317.09" x2="101.76" y2="317.09" stroke="#a6022c" stroke-width="1.0" />
<rect x="97.01" y="311.37" width="5.00" height="5.00" fill="#a6022c" stroke="none" stroke-width="0"/>
<line x1="118.35" y1="329.76" x2="118.35" y2="332.99" stroke="#a6022c" stroke-width="1.0" />
<line x1="116.10" y1="329.76" x2="120.60" y2="329.76" stroke="#a6022c" stroke-width="1.0" />
<line x1="116.10" y1="332.99" x2="120.60" y2="332.99" stroke="#a6022c" stroke-width="1.0" />
<rect x="115.85" y="328.88" width="5.00" height="5.00" fill="#a6022c" stroke="none" stroke-width="0"/>
<rect x="134.70" y="341.12" width="5.00" height="5.00" fill="#a6022c" stroke="none" stroke-width="0"/>
<rect x="153.54" y="345.41" width="5.00" height="5.00" fill="#a6022c" stroke="none" stroke-width="0"/>
<rect x="172.38" y="345.74" width="5.00" height="5.00" fill="#a6022c" stroke="none" stroke-width="0"/>
<rect x="191.22" y="345.74" width="5.00" height="5.00" fill="#a6022c" stroke="none" stroke-width="0"/>
<rect x="210.06" y="345.74" width="5.00" height="5.00" fill="#a6022c" stroke="none" stroke-width="0"/>
<line x1="80.67" y1="248.89" x2="80.67" y2="255.12" stroke="#5ea838" stroke-width="1.0" />
<line x1="78.42" y1="248.89" x2="82.92" y2="248.89" stroke="#5ea838" stroke-width="1.0" />
<line x1="78.42" y1="255.12" x2="82.92" y2="255.12" stroke="#5ea838" stroke-width="1.0" />
<circle cx="80.67" cy="252.01" r="2.60" fill="#5ea838" stroke="none" stroke-width="0"/>
<line x1="99.51" y1="249.32" x2="99.51" y2="255.55" stroke="#5ea838" stroke-width="1.0" />
<line x1="97.26" y1="249.32" x2="101.76" y2="249.32" stroke="#5ea838" stroke-width="1.0" />
<line x1="97.26" y1="255.55" x2="101.76" y2="255.55" stroke="#5ea838" stroke-width="1.0" />
<circle cx="99.51" cy="252.44" r="2.60" fill="#5ea838" stroke="none" stroke-width="0"/>
<circle cx="118.35" cy="245.78" r="2.60" fill="#5ea838" stroke="none" stroke-width="0"/>
<line x1="137.20" y1="251.68" x2="137.20" y2="263.07" stroke="#5ea838" stroke-width="1.0" />
<line x1="134.95" y1="251.68" x2="139.45" y2="251.68" stroke="#5ea838" stroke-width="1.0" />
<line x1="134.95" y1="263.07" x2="139.45" y2="263.07" stroke="#5ea838" stroke-width="1.0" />
<circle cx="137.20" cy="257.38" r="2.60" fill="#5ea838" stroke="none" stroke-width="0"/>
<line x1="156.04" y1="266.83" x2="156.04" y2="277.35" stroke="#5ea838" stroke-width="1.0" />
<line x1="153.79" y1="266.83" x2="158.29" y2="266.83" stroke="#5ea838" stroke-width="1.0" />
<line x1="153.79" y1="277.35" x2="158.29" y2="277.35" stroke="#5ea838" stroke-width="1.0" />
<circle cx="156.04" cy="272.09" r="2.60" fill="#5ea838" stroke="none" stroke-width="0"/>
<circle cx="174.88" cy="307.64" r="2.60" fill="#5ea838" stroke="none" stroke-width="0"/>
<line x1="193.72" y1="331.05" x2="193.72" y2="336.42" stroke="#5ea838" stroke-width="1.0" />
<line x1="191.47" y1="331.05" x2="195.97" y2="331.05" stroke="#5ea838" stroke-width="1.0" />
<line x1="191.47" y1="336.42" x2="195.97" y2="336.42" stroke="#5ea838" stroke-width="1.0" />
<circle cx="193.72" cy="333.74" r="2.60" fill="#5ea838" stroke="none" stroke-width="0"/>
<circle cx="212.56" cy="345.34" r="2.60" fill="#5ea838" stroke="none" stroke-width="0"/>
<line x1="166.70" y1="216.20" x2="184.00" y2="216.20" stroke="#5ea838" stroke-width="1.8" />
<circle cx="175.40" cy="216.20" r="3.40" fill="#5ea838" stroke="none" stroke-width="0"/>
<text x="187.44" y="219.30" font-size="9.20" fill="#141414" textLength="60.25" lengthAdjust="spacingAndGlyphs">Ba/F3 CALR WT</text>
<line x1="166.70" y1="228.30" x2="184.00" y2="228.30" stroke="#a6022c" stroke-width="1.8" />
<rect x="172.10" y="225.00" width="6.60" height="6.60" fill="#a6022c" stroke="none" stroke-width="0"/>
<text x="187.42" y="231.40" font-size="9.20" fill="#141414" textLength="84.07" lengthAdjust="spacingAndGlyphs">Ba/F3 CALR del79/WT</text>
<line x1="166.70" y1="240.50" x2="184.00" y2="240.50" stroke="#22397f" stroke-width="1.8" />
<path d="M175.40 236.50 L179.10 243.16 L171.70 243.16 Z" fill="#22397f"/>
<text x="187.41" y="243.60" font-size="9.20" fill="#141414" textLength="92.51" lengthAdjust="spacingAndGlyphs">Ba/F3 CALR del37/del37</text>
<text x="301.71" y="208.60" font-size="12.80" fill="#111" font-weight="bold" textLength="10.72" lengthAdjust="spacingAndGlyphs">D</text>
<line x1="348.80" y1="238.30" x2="348.80" y2="348.20" stroke="#1a1a1a" stroke-width="1.3" />
<line x1="348.20" y1="347.60" x2="510.00" y2="347.60" stroke="#1a1a1a" stroke-width="1.3" />
<line x1="346.00" y1="347.60" x2="348.80" y2="347.60" stroke="#1a1a1a" stroke-width="1.0" />
<line x1="346.00" y1="294.50" x2="348.80" y2="294.50" stroke="#1a1a1a" stroke-width="1.0" />
<line x1="346.00" y1="241.40" x2="348.80" y2="241.40" stroke="#1a1a1a" stroke-width="1.0" />
<line x1="368.80" y1="347.60" x2="368.80" y2="350.40" stroke="#1a1a1a" stroke-width="1.0" />
<line x1="436.10" y1="347.60" x2="436.10" y2="350.40" stroke="#1a1a1a" stroke-width="1.0" />
<line x1="456.36" y1="347.60" x2="456.36" y2="350.40" stroke="#1a1a1a" stroke-width="1.0" />
<line x1="483.14" y1="347.60" x2="483.14" y2="350.40" stroke="#1a1a1a" stroke-width="1.0" />
<line x1="503.40" y1="347.60" x2="503.40" y2="350.40" stroke="#1a1a1a" stroke-width="1.0" />
<text x="327.44" y="244.74" font-size="9.70" fill="#141414" textLength="14.50" lengthAdjust="spacingAndGlyphs">100</text>
<text x="331.94" y="297.84" font-size="9.70" fill="#141414" textLength="10.01" lengthAdjust="spacingAndGlyphs">50</text>
<text x="337.06" y="350.94" font-size="9.70" fill="#141414" textLength="4.89" lengthAdjust="spacingAndGlyphs">0</text>
<text x="367.04" y="361.70" font-size="9.70" fill="#141414" textLength="3.35" lengthAdjust="spacingAndGlyphs">1</text>
<text x="431.66" y="361.70" font-size="9.70" fill="#141414" textLength="8.59" lengthAdjust="spacingAndGlyphs">10</text>
<text x="451.25" y="361.70" font-size="9.70" fill="#141414" textLength="10.11" lengthAdjust="spacingAndGlyphs">20</text>
<text x="478.13" y="361.70" font-size="9.70" fill="#141414" textLength="10.01" lengthAdjust="spacingAndGlyphs">50</text>
<text x="496.87" y="361.70" font-size="9.70" fill="#141414" textLength="12.78" lengthAdjust="spacingAndGlyphs">100</text>
<text x="397.36" y="376.70" font-size="10.60" fill="#141414" textLength="64.78" lengthAdjust="spacingAndGlyphs">Hematoxylin μM</text>
<text x="-0.04" y="0" font-size="10.60" fill="#141414" textLength="45.36" lengthAdjust="spacingAndGlyphs" transform="translate(321.10 315.30) rotate(-90)">Viability [%]</text>
<path d="M361.58 251.76 L363.36 251.90 L365.13 252.04 L366.90 252.20 L368.68 252.37 L370.45 252.55 L372.22 252.75 L373.99 252.95 L375.77 253.18 L377.54 253.42 L379.31 253.67 L381.08 253.94 L382.86 254.23 L384.63 254.55 L386.40 254.88 L388.18 255.23 L389.95 255.61 L391.72 256.01 L393.49 256.44 L395.27 256.90 L397.04 257.39 L398.81 257.90 L400.58 258.45 L402.36 259.03 L404.13 259.65 L405.90 260.31 L407.67 261.00 L409.45 261.73 L411.22 262.50 L412.99 263.32 L414.77 264.17 L416.54 265.07 L418.31 266.02 L420.08 267.02 L421.86 268.06 L423.63 269.14 L425.40 270.28 L427.17 271.46 L428.95 272.69 L430.72 273.96 L432.49 275.29 L434.27 276.65 L436.04 278.06 L437.81 279.51 L439.58 281.00 L441.36 282.52 L443.13 284.08 L444.90 285.67 L446.67 287.28 L448.45 288.92 L450.22 290.58 L451.99 292.25 L453.76 293.94 L455.54 295.63 L457.31 297.32 L459.08 299.01 L460.86 300.69 L462.63 302.36 L464.40 304.02 L466.17 305.66 L467.95 307.27 L469.72 308.86 L471.49 310.41 L473.26 311.94 L475.04 313.42 L476.81 314.87 L478.58 316.27 L480.36 317.64 L482.13 318.95 L483.90 320.23 L485.67 321.45 L487.45 322.63 L489.22 323.76 L490.99 324.84 L492.76 325.88 L494.54 326.87 L496.31 327.82 L498.08 328.71 L499.85 329.57 L501.63 330.38 L503.40 331.15" fill="none" stroke="#a6022c" stroke-width="1.5" stroke-linejoin="round" stroke-linecap="round" />
<path d="M361.58 242.43 L363.36 242.52 L365.13 242.60 L366.90 242.70 L368.68 242.80 L370.45 242.90 L372.22 243.02 L373.99 243.15 L375.77 243.28 L377.54 243.43 L379.31 243.58 L381.08 243.75 L382.86 243.93 L384.63 244.13 L386.40 244.34 L388.18 244.56 L389.95 244.80 L391.72 245.06 L393.49 245.34 L395.27 245.63 L397.04 245.95 L398.81 246.29 L400.58 246.66 L402.36 247.05 L404.13 247.47 L405.90 247.92 L407.67 248.40 L409.45 248.91 L411.22 249.45 L412.99 250.04 L414.77 250.66 L416.54 251.32 L418.31 252.02 L420.08 252.76 L421.86 253.55 L423.63 254.39 L425.40 255.28 L427.17 256.21 L428.95 257.20 L430.72 258.25 L432.49 259.35 L434.27 260.50 L436.04 261.71 L437.81 262.98 L439.58 264.30 L441.36 265.69 L443.13 267.13 L444.90 268.62 L446.67 270.17 L448.45 271.78 L450.22 273.43 L451.99 275.14 L453.76 276.89 L455.54 278.69 L457.31 280.52 L459.08 282.39 L460.86 284.28 L462.63 286.21 L464.40 288.15 L466.17 290.11 L467.95 292.08 L469.72 294.05 L471.49 296.02 L473.26 297.98 L475.04 299.93 L476.81 301.87 L478.58 303.77 L480.36 305.65 L482.13 307.50 L483.90 309.31 L485.67 311.08 L487.45 312.80 L489.22 314.48 L490.99 316.10 L492.76 317.67 L494.54 319.19 L496.31 320.65 L498.08 322.05 L499.85 323.40 L501.63 324.69 L503.40 325.92" fill="none" stroke="#5ea838" stroke-width="1.5" stroke-linejoin="round" stroke-linecap="round" />
<rect x="358.88" y="254.21" width="5.40" height="9.44" fill="#a6022c" stroke="none" stroke-width="0"/>
<rect x="379.14" y="252.61" width="5.40" height="5.40" fill="#a6022c" stroke="none" stroke-width="0"/>
<rect x="399.40" y="258.67" width="5.40" height="7.52" fill="#a6022c" stroke="none" stroke-width="0"/>
<rect x="419.66" y="263.23" width="5.40" height="5.40" fill="#a6022c" stroke="none" stroke-width="0"/>
<rect x="439.92" y="286.17" width="5.40" height="5.40" fill="#a6022c" stroke="none" stroke-width="0"/>
<rect x="460.18" y="304.23" width="5.40" height="5.40" fill="#a6022c" stroke="none" stroke-width="0"/>
<rect x="480.44" y="312.51" width="5.40" height="8.59" fill="#a6022c" stroke="none" stroke-width="0"/>
<rect x="500.70" y="333.22" width="5.40" height="5.40" fill="#a6022c" stroke="none" stroke-width="0"/>
<line x1="381.84" y1="243.10" x2="381.84" y2="247.13" stroke="#5ea838" stroke-width="1.0" />
<line x1="379.84" y1="243.10" x2="383.84" y2="243.10" stroke="#5ea838" stroke-width="1.0" />
<line x1="379.84" y1="247.13" x2="383.84" y2="247.13" stroke="#5ea838" stroke-width="1.0" />
<circle cx="361.58" cy="242.78" r="2.70" fill="#5ea838" stroke="none" stroke-width="0"/>
<circle cx="381.84" cy="243.10" r="2.70" fill="#5ea838" stroke="none" stroke-width="0"/>
<circle cx="402.10" cy="247.98" r="2.70" fill="#5ea838" stroke="none" stroke-width="0"/>
<circle cx="422.36" cy="248.52" r="2.70" fill="#5ea838" stroke="none" stroke-width="0"/>
<circle cx="442.62" cy="266.57" r="2.70" fill="#5ea838" stroke="none" stroke-width="0"/>
<circle cx="462.88" cy="291.53" r="2.70" fill="#5ea838" stroke="none" stroke-width="0"/>
<circle cx="483.14" cy="302.04" r="2.70" fill="#5ea838" stroke="none" stroke-width="0"/>
<circle cx="503.40" cy="327.42" r="2.70" fill="#5ea838" stroke="none" stroke-width="0"/>
<line x1="412.20" y1="215.90" x2="428.80" y2="215.90" stroke="#5ea838" stroke-width="1.8" />
<circle cx="420.40" cy="215.90" r="3.40" fill="#5ea838" stroke="none" stroke-width="0"/>
<text x="432.29" y="218.90" font-size="9.20" fill="#141414" textLength="55.49" lengthAdjust="spacingAndGlyphs">UT-7 CALR WT</text>
<line x1="412.20" y1="228.20" x2="428.80" y2="228.20" stroke="#a6022c" stroke-width="1.8" />
<rect x="417.10" y="224.90" width="6.60" height="6.60" fill="#a6022c" stroke="none" stroke-width="0"/>
<text x="432.27" y="231.20" font-size="9.20" fill="#141414" textLength="79.42" lengthAdjust="spacingAndGlyphs">UT-7 CALR del58/WT</text>
<text x="7.95" y="407.20" font-size="12.80" fill="#111" font-weight="bold" textLength="7.49" lengthAdjust="spacingAndGlyphs">E</text>
<text x="18.09" y="447.90" font-size="9.30" fill="#141414" textLength="83.41" lengthAdjust="spacingAndGlyphs">BaF3/UT7 CALR  WT</text>
<text x="21.84" y="457.90" font-size="9.30" fill="#141414" textLength="77.52" lengthAdjust="spacingAndGlyphs">(mCherry negative)</text>
<text x="54.16" y="472.20" font-size="9.30" fill="#141414" textLength="11.65" lengthAdjust="spacingAndGlyphs">1:1</text>
<text x="17.48" y="487.30" font-size="9.30" fill="#141414" textLength="85.59" lengthAdjust="spacingAndGlyphs">BaF3/UT7 CALR  mut</text>
<text x="22.93" y="497.70" font-size="9.30" fill="#141414" textLength="75.14" lengthAdjust="spacingAndGlyphs">(mCherry positive)</text>
<circle cx="126.50" cy="454.10" r="3.75" fill="#fff" stroke="#111" stroke-width="1.05"/>
<circle cx="134.20" cy="451.00" r="3.75" fill="#fff" stroke="#111" stroke-width="1.05"/>
<circle cx="146.00" cy="453.30" r="3.75" fill="#fff" stroke="#111" stroke-width="1.05"/>
<circle cx="149.80" cy="457.90" r="3.75" fill="#fff" stroke="#111" stroke-width="1.05"/>
<circle cx="130.20" cy="458.20" r="3.75" fill="#fff" stroke="#111" stroke-width="1.05"/>
<circle cx="138.30" cy="457.30" r="3.75" fill="#fff" stroke="#111" stroke-width="1.05"/>
<circle cx="142.30" cy="461.30" r="3.75" fill="#fff" stroke="#111" stroke-width="1.05"/>
<circle cx="134.20" cy="463.60" r="3.75" fill="#fff" stroke="#111" stroke-width="1.05"/>
<circle cx="122.70" cy="467.70" r="3.75" fill="#fff" stroke="#111" stroke-width="1.05"/>
<circle cx="149.80" cy="466.30" r="3.75" fill="#fff" stroke="#111" stroke-width="1.05"/>
<circle cx="126.10" cy="464.20" r="3.75" fill="#fff" stroke="#111" stroke-width="1.05"/>
<circle cx="146.00" cy="479.00" r="3.75" fill="#a6022c" stroke="#111" stroke-width="1.05"/>
<circle cx="135.00" cy="473.00" r="3.75" fill="#a6022c" stroke="#111" stroke-width="1.05"/>
<circle cx="127.00" cy="482.00" r="3.75" fill="#a6022c" stroke="#111" stroke-width="1.05"/>
<circle cx="138.00" cy="484.00" r="3.75" fill="#a6022c" stroke="#111" stroke-width="1.05"/>
<circle cx="145.50" cy="488.50" r="3.75" fill="#a6022c" stroke="#111" stroke-width="1.05"/>
<circle cx="133.50" cy="491.50" r="3.75" fill="#a6022c" stroke="#111" stroke-width="1.05"/>
<circle cx="121.00" cy="475.00" r="3.75" fill="#a6022c" stroke="#111" stroke-width="1.05"/>
<circle cx="142.00" cy="477.00" r="3.75" fill="#a6022c" stroke="#111" stroke-width="1.05"/>
<circle cx="130.00" cy="476.00" r="3.75" fill="#a6022c" stroke="#111" stroke-width="1.05"/>
<circle cx="131.90" cy="470.60" r="3.75" fill="#a6022c" stroke="#111" stroke-width="1.05"/>
<circle cx="144.00" cy="473.40" r="3.75" fill="#a6022c" stroke="#111" stroke-width="1.05"/>
<circle cx="150.40" cy="474.60" r="3.75" fill="#a6022c" stroke="#111" stroke-width="1.05"/>
<circle cx="124.40" cy="473.40" r="3.75" fill="#a6022c" stroke="#111" stroke-width="1.05"/>
<circle cx="128.50" cy="478.10" r="3.75" fill="#a6022c" stroke="#111" stroke-width="1.05"/>
<circle cx="120.40" cy="480.40" r="3.75" fill="#a6022c" stroke="#111" stroke-width="1.05"/>
<circle cx="136.50" cy="477.50" r="3.75" fill="#a6022c" stroke="#111" stroke-width="1.05"/>
<circle cx="140.00" cy="480.90" r="3.75" fill="#a6022c" stroke="#111" stroke-width="1.05"/>
<circle cx="149.80" cy="482.10" r="3.75" fill="#a6022c" stroke="#111" stroke-width="1.05"/>
<circle cx="131.90" cy="483.30" r="3.75" fill="#a6022c" stroke="#111" stroke-width="1.05"/>
<circle cx="124.40" cy="485.00" r="3.75" fill="#a6022c" stroke="#111" stroke-width="1.05"/>
<circle cx="136.50" cy="486.10" r="3.75" fill="#a6022c" stroke="#111" stroke-width="1.05"/>
<circle cx="143.40" cy="486.10" r="3.75" fill="#a6022c" stroke="#111" stroke-width="1.05"/>
<circle cx="128.50" cy="489.60" r="3.75" fill="#a6022c" stroke="#111" stroke-width="1.05"/>
<circle cx="140.00" cy="491.30" r="3.75" fill="#a6022c" stroke="#111" stroke-width="1.05"/>
<text x="159.03" y="461.20" font-size="9.30" fill="#141414" textLength="62.74" lengthAdjust="spacingAndGlyphs">Drug treatment</text>
<line x1="161.30" y1="469.50" x2="221.50" y2="469.50" stroke="#1a1a1a" stroke-width="1.1" />
<line x1="221.00" y1="469.50" x2="243.00" y2="458.00" stroke="#1a1a1a" stroke-width="1.1" />
<line x1="221.00" y1="469.50" x2="243.00" y2="481.00" stroke="#1a1a1a" stroke-width="1.1" />
<path d="M247.0 456.0 L239.2 456.6 L242.0 461.9 Z" fill="#1a1a1a"/>
<path d="M247.0 483.0 L242.0 477.0 L239.2 482.3 Z" fill="#1a1a1a"/>
<text x="253.23" y="418.50" font-size="9.30" fill="#141414" textLength="90.37" lengthAdjust="spacingAndGlyphs">Mutant cells depletion</text>
<circle cx="299.80" cy="426.20" r="3.75" fill="#fff" stroke="#111" stroke-width="1.05"/>
<circle cx="291.30" cy="430.50" r="3.75" fill="#fff" stroke="#111" stroke-width="1.05"/>
<circle cx="299.50" cy="429.50" r="3.75" fill="#fff" stroke="#111" stroke-width="1.05"/>
<circle cx="307.20" cy="433.40" r="3.75" fill="#fff" stroke="#111" stroke-width="1.05"/>
<circle cx="287.50" cy="437.20" r="3.75" fill="#fff" stroke="#111" stroke-width="1.05"/>
<circle cx="295.70" cy="435.80" r="3.75" fill="#fff" stroke="#111" stroke-width="1.05"/>
<circle cx="303.40" cy="434.30" r="3.75" fill="#fff" stroke="#111" stroke-width="1.05"/>
<circle cx="311.50" cy="438.70" r="3.75" fill="#fff" stroke="#111" stroke-width="1.05"/>
<circle cx="300.00" cy="441.10" r="3.75" fill="#fff" stroke="#111" stroke-width="1.05"/>
<circle cx="285.60" cy="446.40" r="3.75" fill="#fff" stroke="#111" stroke-width="1.05"/>
<circle cx="290.40" cy="450.70" r="3.75" fill="#fff" stroke="#111" stroke-width="1.05"/>
<circle cx="297.60" cy="448.80" r="3.75" fill="#fff" stroke="#111" stroke-width="1.05"/>
<circle cx="305.80" cy="444.90" r="3.75" fill="#fff" stroke="#111" stroke-width="1.05"/>
<circle cx="312.00" cy="444.40" r="3.75" fill="#fff" stroke="#111" stroke-width="1.05"/>
<circle cx="285.10" cy="453.60" r="3.75" fill="#a6022c" stroke="#111" stroke-width="1.05"/>
<circle cx="290.40" cy="461.30" r="3.75" fill="#a6022c" stroke="#111" stroke-width="1.05"/>
<circle cx="303.80" cy="458.40" r="3.75" fill="#a6022c" stroke="#111" stroke-width="1.05"/>
<circle cx="309.60" cy="448.80" r="3.75" fill="#a6022c" stroke="#111" stroke-width="1.05"/>
<circle cx="304.80" cy="453.60" r="3.75" fill="#fff" stroke="#111" stroke-width="1.05"/>
<circle cx="297.60" cy="457.40" r="3.75" fill="#fff" stroke="#111" stroke-width="1.05"/>
<circle cx="285.60" cy="457.90" r="3.75" fill="#fff" stroke="#111" stroke-width="1.05"/>
<circle cx="311.00" cy="454.50" r="3.75" fill="#a6022c" stroke="#111" stroke-width="1.05"/>
<text x="253.23" y="481.10" font-size="9.30" fill="#141414" textLength="93.78" lengthAdjust="spacingAndGlyphs">Mutant cells outgrowth</text>
<circle cx="298.60" cy="490.20" r="3.75" fill="#fff" stroke="#111" stroke-width="1.05"/>
<circle cx="290.40" cy="493.60" r="3.75" fill="#fff" stroke="#111" stroke-width="1.05"/>
<circle cx="314.40" cy="497.90" r="3.75" fill="#fff" stroke="#111" stroke-width="1.05"/>
<circle cx="301.90" cy="498.40" r="3.75" fill="#fff" stroke="#111" stroke-width="1.05"/>
<circle cx="295.70" cy="497.40" r="3.75" fill="#fff" stroke="#111" stroke-width="1.05"/>
<circle cx="293.00" cy="503.50" r="3.75" fill="#a6022c" stroke="#111" stroke-width="1.05"/>
<circle cx="303.00" cy="503.50" r="3.75" fill="#a6022c" stroke="#111" stroke-width="1.05"/>
<circle cx="311.50" cy="510.00" r="3.75" fill="#a6022c" stroke="#111" stroke-width="1.05"/>
<circle cx="298.00" cy="506.50" r="3.75" fill="#a6022c" stroke="#111" stroke-width="1.05"/>
<circle cx="290.50" cy="514.00" r="3.75" fill="#a6022c" stroke="#111" stroke-width="1.05"/>
<circle cx="305.00" cy="519.00" r="3.75" fill="#a6022c" stroke="#111" stroke-width="1.05"/>
<circle cx="286.00" cy="506.00" r="3.75" fill="#a6022c" stroke="#111" stroke-width="1.05"/>
<circle cx="312.00" cy="502.00" r="3.75" fill="#a6022c" stroke="#111" stroke-width="1.05"/>
<circle cx="300.50" cy="513.00" r="3.75" fill="#a6022c" stroke="#111" stroke-width="1.05"/>
<circle cx="293.00" cy="519.50" r="3.75" fill="#a6022c" stroke="#111" stroke-width="1.05"/>
<circle cx="305.80" cy="492.60" r="3.75" fill="#a6022c" stroke="#111" stroke-width="1.05"/>
<circle cx="309.10" cy="498.40" r="3.75" fill="#a6022c" stroke="#111" stroke-width="1.05"/>
<circle cx="287.00" cy="500.30" r="3.75" fill="#a6022c" stroke="#111" stroke-width="1.05"/>
<circle cx="296.60" cy="502.20" r="3.75" fill="#a6022c" stroke="#111" stroke-width="1.05"/>
<circle cx="308.20" cy="505.60" r="3.75" fill="#a6022c" stroke="#111" stroke-width="1.05"/>
<circle cx="314.40" cy="506.10" r="3.75" fill="#a6022c" stroke="#111" stroke-width="1.05"/>
<circle cx="289.00" cy="506.60" r="3.75" fill="#a6022c" stroke="#111" stroke-width="1.05"/>
<circle cx="300.50" cy="509.00" r="3.75" fill="#a6022c" stroke="#111" stroke-width="1.05"/>
<circle cx="284.10" cy="511.80" r="3.75" fill="#a6022c" stroke="#111" stroke-width="1.05"/>
<circle cx="292.80" cy="510.40" r="3.75" fill="#a6022c" stroke="#111" stroke-width="1.05"/>
<circle cx="304.80" cy="512.80" r="3.75" fill="#a6022c" stroke="#111" stroke-width="1.05"/>
<circle cx="314.40" cy="513.80" r="3.75" fill="#a6022c" stroke="#111" stroke-width="1.05"/>
<circle cx="297.10" cy="514.70" r="3.75" fill="#a6022c" stroke="#111" stroke-width="1.05"/>
<circle cx="288.50" cy="516.70" r="3.75" fill="#a6022c" stroke="#111" stroke-width="1.05"/>
<circle cx="301.40" cy="517.60" r="3.75" fill="#a6022c" stroke="#111" stroke-width="1.05"/>
<circle cx="307.20" cy="515.70" r="3.75" fill="#a6022c" stroke="#111" stroke-width="1.05"/>
<circle cx="296.60" cy="520.50" r="3.75" fill="#a6022c" stroke="#111" stroke-width="1.05"/>
<text x="345.43" y="464.40" font-size="9.30" fill="#141414" textLength="21.64" lengthAdjust="spacingAndGlyphs">FACS</text>
<line x1="334.30" y1="469.70" x2="373.00" y2="469.70" stroke="#1a1a1a" stroke-width="1.1" />
<path d="M377.6 469.7 L370.8 466.5 L371.6 469.7 L370.8 472.9 Z" fill="#1a1a1a"/>
<text x="381.36" y="467.40" font-size="9.30" fill="#141414" textLength="93.26" lengthAdjust="spacingAndGlyphs">Percentage of mCherry</text>
<text x="381.52" y="478.00" font-size="9.30" fill="#141414" textLength="51.00" lengthAdjust="spacingAndGlyphs">positive cells</text>
<text x="8.06" y="551.80" font-size="12.80" fill="#111" font-weight="bold" textLength="7.71" lengthAdjust="spacingAndGlyphs">F</text>
<rect x="59.40" y="578.87" width="6.20" height="93.43" fill="#6aa844" stroke="#5c9f33" stroke-width="0.8"/>
<rect x="59.40" y="625.78" width="6.20" height="46.52" fill="#a6022c" stroke="#98001f" stroke-width="0.8"/>
<rect x="71.13" y="578.87" width="6.20" height="93.43" fill="#6aa844" stroke="#5c9f33" stroke-width="0.8"/>
<rect x="71.13" y="625.78" width="6.20" height="46.52" fill="#a6022c" stroke="#98001f" stroke-width="0.8"/>
<rect x="82.86" y="578.87" width="6.20" height="93.43" fill="#6aa844" stroke="#5c9f33" stroke-width="0.8"/>
<rect x="82.86" y="625.78" width="6.20" height="46.52" fill="#a6022c" stroke="#98001f" stroke-width="0.8"/>
<rect x="106.32" y="578.87" width="6.20" height="93.43" fill="#6aa844" stroke="#5c9f33" stroke-width="0.8"/>
<rect x="106.32" y="627.85" width="6.20" height="44.45" fill="#a6022c" stroke="#98001f" stroke-width="0.8"/>
<rect x="118.05" y="578.87" width="6.20" height="93.43" fill="#6aa844" stroke="#5c9f33" stroke-width="0.8"/>
<rect x="118.05" y="649.90" width="6.20" height="22.40" fill="#a6022c" stroke="#98001f" stroke-width="0.8"/>
<rect x="129.78" y="579.52" width="6.20" height="92.78" fill="#6aa844" stroke="#5c9f33" stroke-width="0.8"/>
<rect x="129.78" y="668.85" width="6.20" height="3.45" fill="#a6022c" stroke="#98001f" stroke-width="0.8"/>
<rect x="153.24" y="578.87" width="6.20" height="93.43" fill="#6aa844" stroke="#5c9f33" stroke-width="0.8"/>
<rect x="153.24" y="613.58" width="6.20" height="58.72" fill="#a6022c" stroke="#98001f" stroke-width="0.8"/>
<rect x="164.97" y="578.87" width="6.20" height="93.43" fill="#6aa844" stroke="#5c9f33" stroke-width="0.8"/>
<rect x="164.97" y="662.94" width="6.20" height="9.36" fill="#a6022c" stroke="#98001f" stroke-width="0.8"/>
<rect x="200.16" y="578.87" width="6.20" height="93.43" fill="#6aa844" stroke="#5c9f33" stroke-width="0.8"/>
<rect x="200.16" y="601.95" width="6.20" height="70.35" fill="#a6022c" stroke="#98001f" stroke-width="0.8"/>
<rect x="211.89" y="578.87" width="6.20" height="93.43" fill="#6aa844" stroke="#5c9f33" stroke-width="0.8"/>
<rect x="211.89" y="666.23" width="6.20" height="6.07" fill="#a6022c" stroke="#98001f" stroke-width="0.8"/>
<line x1="62.50" y1="578.47" x2="62.50" y2="570.49" stroke="#1a1a1a" stroke-width="1.0" />
<line x1="60.50" y1="570.49" x2="64.50" y2="570.49" stroke="#1a1a1a" stroke-width="1.0" />
<line x1="62.50" y1="625.38" x2="62.50" y2="616.66" stroke="#1a1a1a" stroke-width="1.0" />
<line x1="60.50" y1="616.66" x2="64.50" y2="616.66" stroke="#1a1a1a" stroke-width="1.0" />
<line x1="74.23" y1="578.47" x2="74.23" y2="570.49" stroke="#1a1a1a" stroke-width="1.0" />
<line x1="72.23" y1="570.49" x2="76.23" y2="570.49" stroke="#1a1a1a" stroke-width="1.0" />
<line x1="74.23" y1="625.38" x2="74.23" y2="616.66" stroke="#1a1a1a" stroke-width="1.0" />
<line x1="72.23" y1="616.66" x2="76.23" y2="616.66" stroke="#1a1a1a" stroke-width="1.0" />
<line x1="85.96" y1="578.47" x2="85.96" y2="570.49" stroke="#1a1a1a" stroke-width="1.0" />
<line x1="83.96" y1="570.49" x2="87.96" y2="570.49" stroke="#1a1a1a" stroke-width="1.0" />
<line x1="85.96" y1="625.38" x2="85.96" y2="616.66" stroke="#1a1a1a" stroke-width="1.0" />
<line x1="83.96" y1="616.66" x2="87.96" y2="616.66" stroke="#1a1a1a" stroke-width="1.0" />
<line x1="109.42" y1="578.47" x2="109.42" y2="576.31" stroke="#1a1a1a" stroke-width="1.0" />
<line x1="107.42" y1="576.31" x2="111.42" y2="576.31" stroke="#1a1a1a" stroke-width="1.0" />
<line x1="109.42" y1="627.45" x2="109.42" y2="625.29" stroke="#1a1a1a" stroke-width="1.0" />
<line x1="107.42" y1="625.29" x2="111.42" y2="625.29" stroke="#1a1a1a" stroke-width="1.0" />
<line x1="121.15" y1="578.47" x2="121.15" y2="576.31" stroke="#1a1a1a" stroke-width="1.0" />
<line x1="119.15" y1="576.31" x2="123.15" y2="576.31" stroke="#1a1a1a" stroke-width="1.0" />
<line x1="121.15" y1="649.50" x2="121.15" y2="646.31" stroke="#1a1a1a" stroke-width="1.0" />
<line x1="119.15" y1="646.31" x2="123.15" y2="646.31" stroke="#1a1a1a" stroke-width="1.0" />
<line x1="132.88" y1="578.47" x2="132.88" y2="577.90" stroke="#1a1a1a" stroke-width="1.0" />
<line x1="130.88" y1="577.90" x2="134.88" y2="577.90" stroke="#1a1a1a" stroke-width="1.0" />
<line x1="132.88" y1="668.45" x2="132.88" y2="667.70" stroke="#1a1a1a" stroke-width="1.0" />
<line x1="130.88" y1="667.70" x2="134.88" y2="667.70" stroke="#1a1a1a" stroke-width="1.0" />
<line x1="156.34" y1="578.47" x2="156.34" y2="576.31" stroke="#1a1a1a" stroke-width="1.0" />
<line x1="154.34" y1="576.31" x2="158.34" y2="576.31" stroke="#1a1a1a" stroke-width="1.0" />
<line x1="156.34" y1="613.18" x2="156.34" y2="611.12" stroke="#1a1a1a" stroke-width="1.0" />
<line x1="154.34" y1="611.12" x2="158.34" y2="611.12" stroke="#1a1a1a" stroke-width="1.0" />
<line x1="168.07" y1="578.47" x2="168.07" y2="576.31" stroke="#1a1a1a" stroke-width="1.0" />
<line x1="166.07" y1="576.31" x2="170.07" y2="576.31" stroke="#1a1a1a" stroke-width="1.0" />
<line x1="168.07" y1="662.54" x2="168.07" y2="659.16" stroke="#1a1a1a" stroke-width="1.0" />
<line x1="166.07" y1="659.16" x2="170.07" y2="659.16" stroke="#1a1a1a" stroke-width="1.0" />
<line x1="203.26" y1="578.47" x2="203.26" y2="576.31" stroke="#1a1a1a" stroke-width="1.0" />
<line x1="201.26" y1="576.31" x2="205.26" y2="576.31" stroke="#1a1a1a" stroke-width="1.0" />
<line x1="203.26" y1="601.55" x2="203.26" y2="599.39" stroke="#1a1a1a" stroke-width="1.0" />
<line x1="201.26" y1="599.39" x2="205.26" y2="599.39" stroke="#1a1a1a" stroke-width="1.0" />
<line x1="214.99" y1="578.47" x2="214.99" y2="576.31" stroke="#1a1a1a" stroke-width="1.0" />
<line x1="212.99" y1="576.31" x2="216.99" y2="576.31" stroke="#1a1a1a" stroke-width="1.0" />
<line x1="214.99" y1="665.83" x2="214.99" y2="663.67" stroke="#1a1a1a" stroke-width="1.0" />
<line x1="212.99" y1="663.67" x2="216.99" y2="663.67" stroke="#1a1a1a" stroke-width="1.0" />
<line x1="54.20" y1="556.50" x2="54.20" y2="672.90" stroke="#1a1a1a" stroke-width="1.3" />
<line x1="53.60" y1="672.30" x2="222.99" y2="672.30" stroke="#1a1a1a" stroke-width="1.3" />
<line x1="51.20" y1="672.30" x2="54.20" y2="672.30" stroke="#1a1a1a" stroke-width="1.0" />
<text x="42.66" y="675.46" font-size="9.20" fill="#141414" textLength="4.89" lengthAdjust="spacingAndGlyphs">0</text>
<line x1="51.20" y1="653.53" x2="54.20" y2="653.53" stroke="#1a1a1a" stroke-width="1.0" />
<text x="37.76" y="656.70" font-size="9.20" fill="#141414" textLength="9.79" lengthAdjust="spacingAndGlyphs">20</text>
<line x1="51.20" y1="634.77" x2="54.20" y2="634.77" stroke="#1a1a1a" stroke-width="1.0" />
<text x="38.00" y="637.93" font-size="9.20" fill="#141414" textLength="9.53" lengthAdjust="spacingAndGlyphs">40</text>
<line x1="51.20" y1="616.00" x2="54.20" y2="616.00" stroke="#1a1a1a" stroke-width="1.0" />
<text x="37.75" y="619.16" font-size="9.20" fill="#141414" textLength="9.79" lengthAdjust="spacingAndGlyphs">60</text>
<line x1="51.20" y1="597.23" x2="54.20" y2="597.23" stroke="#1a1a1a" stroke-width="1.0" />
<text x="37.82" y="600.40" font-size="9.20" fill="#141414" textLength="9.72" lengthAdjust="spacingAndGlyphs">80</text>
<line x1="51.20" y1="578.47" x2="54.20" y2="578.47" stroke="#1a1a1a" stroke-width="1.0" />
<text x="32.93" y="581.63" font-size="9.20" fill="#141414" textLength="14.61" lengthAdjust="spacingAndGlyphs">100</text>
<line x1="51.20" y1="559.70" x2="54.20" y2="559.70" stroke="#1a1a1a" stroke-width="1.0" />
<text x="32.93" y="562.86" font-size="9.20" fill="#141414" textLength="14.61" lengthAdjust="spacingAndGlyphs">120</text>
<line x1="62.50" y1="672.30" x2="62.50" y2="675.30" stroke="#1a1a1a" stroke-width="1.0" />
<line x1="74.23" y1="672.30" x2="74.23" y2="675.30" stroke="#1a1a1a" stroke-width="1.0" />
<line x1="85.96" y1="672.30" x2="85.96" y2="675.30" stroke="#1a1a1a" stroke-width="1.0" />
<line x1="97.69" y1="672.30" x2="97.69" y2="675.30" stroke="#1a1a1a" stroke-width="1.0" />
<line x1="109.42" y1="672.30" x2="109.42" y2="675.30" stroke="#1a1a1a" stroke-width="1.0" />
<line x1="121.15" y1="672.30" x2="121.15" y2="675.30" stroke="#1a1a1a" stroke-width="1.0" />
<line x1="132.88" y1="672.30" x2="132.88" y2="675.30" stroke="#1a1a1a" stroke-width="1.0" />
<line x1="144.61" y1="672.30" x2="144.61" y2="675.30" stroke="#1a1a1a" stroke-width="1.0" />
<line x1="156.34" y1="672.30" x2="156.34" y2="675.30" stroke="#1a1a1a" stroke-width="1.0" />
<line x1="168.07" y1="672.30" x2="168.07" y2="675.30" stroke="#1a1a1a" stroke-width="1.0" />
<line x1="179.80" y1="672.30" x2="179.80" y2="675.30" stroke="#1a1a1a" stroke-width="1.0" />
<line x1="191.53" y1="672.30" x2="191.53" y2="675.30" stroke="#1a1a1a" stroke-width="1.0" />
<line x1="203.26" y1="672.30" x2="203.26" y2="675.30" stroke="#1a1a1a" stroke-width="1.0" />
<line x1="214.99" y1="672.30" x2="214.99" y2="675.30" stroke="#1a1a1a" stroke-width="1.0" />
<text x="59.94" y="686.30" font-size="9.20" fill="#141414" textLength="5.12" lengthAdjust="spacingAndGlyphs">0</text>
<text x="69.68" y="686.30" font-size="9.20" fill="#141414" textLength="8.81" lengthAdjust="spacingAndGlyphs">10</text>
<text x="81.29" y="686.30" font-size="9.20" fill="#141414" textLength="9.24" lengthAdjust="spacingAndGlyphs">20</text>
<text x="106.86" y="686.30" font-size="9.20" fill="#141414" textLength="5.12" lengthAdjust="spacingAndGlyphs">0</text>
<text x="116.60" y="686.30" font-size="9.20" fill="#141414" textLength="8.81" lengthAdjust="spacingAndGlyphs">10</text>
<text x="128.21" y="686.30" font-size="9.20" fill="#141414" textLength="9.24" lengthAdjust="spacingAndGlyphs">20</text>
<text x="153.78" y="686.30" font-size="9.20" fill="#141414" textLength="5.12" lengthAdjust="spacingAndGlyphs">0</text>
<text x="163.52" y="686.30" font-size="9.20" fill="#141414" textLength="8.81" lengthAdjust="spacingAndGlyphs">10</text>
<text x="200.70" y="686.30" font-size="9.20" fill="#141414" textLength="5.12" lengthAdjust="spacingAndGlyphs">0</text>
<text x="210.44" y="686.30" font-size="9.20" fill="#141414" textLength="8.81" lengthAdjust="spacingAndGlyphs">10</text>
<text x="63.38" y="562.80" font-size="9.60" fill="#141414" textLength="21.31" lengthAdjust="spacingAndGlyphs">Day0</text>
<text x="110.30" y="562.80" font-size="9.60" fill="#141414" textLength="21.35" lengthAdjust="spacingAndGlyphs">Day3</text>
<text x="151.36" y="562.80" font-size="9.60" fill="#141414" textLength="21.33" lengthAdjust="spacingAndGlyphs">Day5</text>
<text x="198.27" y="562.80" font-size="9.60" fill="#141414" textLength="21.41" lengthAdjust="spacingAndGlyphs">Day7</text>
<text x="104.05" y="701.00" font-size="10.60" fill="#141414" textLength="70.39" lengthAdjust="spacingAndGlyphs">Hematoxylin [μM]</text>
<text x="-0.31" y="0" font-size="10.20" fill="#141414" textLength="59.06" lengthAdjust="spacingAndGlyphs" transform="translate(26.20 643.10) rotate(-90)">% of population</text>
<rect x="54.60" y="708.80" width="8.50" height="6.90" fill="#6aa844" stroke="none" stroke-width="0"/>
<rect x="54.60" y="721.20" width="8.50" height="7.00" fill="#a6022c" stroke="none" stroke-width="0"/>
<text x="66.14" y="715.00" font-size="9.00" fill="#141414" textLength="79.15" lengthAdjust="spacingAndGlyphs">Ba/F3 MPL CALR WT</text>
<text x="66.12" y="727.30" font-size="9.00" fill="#141414" textLength="93.54" lengthAdjust="spacingAndGlyphs">Ba/F3 MPL CALR mutant</text>
<rect x="281.60" y="578.87" width="6.20" height="93.43" fill="#6aa844" stroke="#5c9f33" stroke-width="0.8"/>
<rect x="281.60" y="623.63" width="6.20" height="48.67" fill="#a6022c" stroke="#98001f" stroke-width="0.8"/>
<rect x="293.33" y="578.87" width="6.20" height="93.43" fill="#6aa844" stroke="#5c9f33" stroke-width="0.8"/>
<rect x="293.33" y="623.63" width="6.20" height="48.67" fill="#a6022c" stroke="#98001f" stroke-width="0.8"/>
<rect x="305.06" y="578.87" width="6.20" height="93.43" fill="#6aa844" stroke="#5c9f33" stroke-width="0.8"/>
<rect x="305.06" y="623.63" width="6.20" height="48.67" fill="#a6022c" stroke="#98001f" stroke-width="0.8"/>
<rect x="328.52" y="578.87" width="6.20" height="93.43" fill="#6aa844" stroke="#5c9f33" stroke-width="0.8"/>
<rect x="328.52" y="616.40" width="6.20" height="55.90" fill="#a6022c" stroke="#98001f" stroke-width="0.8"/>
<rect x="340.25" y="578.87" width="6.20" height="93.43" fill="#6aa844" stroke="#5c9f33" stroke-width="0.8"/>
<rect x="340.25" y="605.61" width="6.20" height="66.69" fill="#a6022c" stroke="#98001f" stroke-width="0.8"/>
<rect x="351.98" y="579.52" width="6.20" height="92.78" fill="#6aa844" stroke="#5c9f33" stroke-width="0.8"/>
<rect x="351.98" y="583.56" width="6.20" height="88.74" fill="#a6022c" stroke="#98001f" stroke-width="0.8"/>
<rect x="375.44" y="578.87" width="6.20" height="93.43" fill="#6aa844" stroke="#5c9f33" stroke-width="0.8"/>
<rect x="375.44" y="626.72" width="6.20" height="45.58" fill="#a6022c" stroke="#98001f" stroke-width="0.8"/>
<rect x="387.17" y="578.87" width="6.20" height="93.43" fill="#6aa844" stroke="#5c9f33" stroke-width="0.8"/>
<rect x="387.17" y="597.16" width="6.20" height="75.14" fill="#a6022c" stroke="#98001f" stroke-width="0.8"/>
<rect x="422.36" y="578.87" width="6.20" height="93.43" fill="#6aa844" stroke="#5c9f33" stroke-width="0.8"/>
<rect x="422.36" y="632.73" width="6.20" height="39.57" fill="#a6022c" stroke="#98001f" stroke-width="0.8"/>
<rect x="434.09" y="578.87" width="6.20" height="93.43" fill="#6aa844" stroke="#5c9f33" stroke-width="0.8"/>
<rect x="434.09" y="589.85" width="6.20" height="82.45" fill="#a6022c" stroke="#98001f" stroke-width="0.8"/>
<line x1="284.70" y1="578.47" x2="284.70" y2="577.06" stroke="#1a1a1a" stroke-width="1.0" />
<line x1="282.70" y1="577.06" x2="286.70" y2="577.06" stroke="#1a1a1a" stroke-width="1.0" />
<line x1="284.70" y1="623.23" x2="284.70" y2="622.01" stroke="#1a1a1a" stroke-width="1.0" />
<line x1="282.70" y1="622.01" x2="286.70" y2="622.01" stroke="#1a1a1a" stroke-width="1.0" />
<line x1="296.43" y1="578.47" x2="296.43" y2="577.06" stroke="#1a1a1a" stroke-width="1.0" />
<line x1="294.43" y1="577.06" x2="298.43" y2="577.06" stroke="#1a1a1a" stroke-width="1.0" />
<line x1="296.43" y1="623.23" x2="296.43" y2="622.01" stroke="#1a1a1a" stroke-width="1.0" />
<line x1="294.43" y1="622.01" x2="298.43" y2="622.01" stroke="#1a1a1a" stroke-width="1.0" />
<line x1="308.16" y1="578.47" x2="308.16" y2="577.06" stroke="#1a1a1a" stroke-width="1.0" />
<line x1="306.16" y1="577.06" x2="310.16" y2="577.06" stroke="#1a1a1a" stroke-width="1.0" />
<line x1="308.16" y1="623.23" x2="308.16" y2="622.01" stroke="#1a1a1a" stroke-width="1.0" />
<line x1="306.16" y1="622.01" x2="310.16" y2="622.01" stroke="#1a1a1a" stroke-width="1.0" />
<line x1="331.62" y1="578.47" x2="331.62" y2="577.90" stroke="#1a1a1a" stroke-width="1.0" />
<line x1="329.62" y1="577.90" x2="333.62" y2="577.90" stroke="#1a1a1a" stroke-width="1.0" />
<line x1="331.62" y1="616.00" x2="331.62" y2="615.53" stroke="#1a1a1a" stroke-width="1.0" />
<line x1="329.62" y1="615.53" x2="333.62" y2="615.53" stroke="#1a1a1a" stroke-width="1.0" />
<line x1="343.35" y1="578.47" x2="343.35" y2="573.87" stroke="#1a1a1a" stroke-width="1.0" />
<line x1="341.35" y1="573.87" x2="345.35" y2="573.87" stroke="#1a1a1a" stroke-width="1.0" />
<line x1="343.35" y1="605.21" x2="343.35" y2="600.05" stroke="#1a1a1a" stroke-width="1.0" />
<line x1="341.35" y1="600.05" x2="345.35" y2="600.05" stroke="#1a1a1a" stroke-width="1.0" />
<line x1="355.08" y1="578.47" x2="355.08" y2="578.00" stroke="#1a1a1a" stroke-width="1.0" />
<line x1="353.08" y1="578.00" x2="357.08" y2="578.00" stroke="#1a1a1a" stroke-width="1.0" />
<line x1="355.08" y1="583.16" x2="355.08" y2="582.41" stroke="#1a1a1a" stroke-width="1.0" />
<line x1="353.08" y1="582.41" x2="357.08" y2="582.41" stroke="#1a1a1a" stroke-width="1.0" />
<line x1="378.54" y1="578.47" x2="378.54" y2="575.56" stroke="#1a1a1a" stroke-width="1.0" />
<line x1="376.54" y1="575.56" x2="380.54" y2="575.56" stroke="#1a1a1a" stroke-width="1.0" />
<line x1="378.54" y1="626.32" x2="378.54" y2="623.69" stroke="#1a1a1a" stroke-width="1.0" />
<line x1="376.54" y1="623.69" x2="380.54" y2="623.69" stroke="#1a1a1a" stroke-width="1.0" />
<line x1="390.27" y1="578.47" x2="390.27" y2="568.61" stroke="#1a1a1a" stroke-width="1.0" />
<line x1="388.27" y1="568.61" x2="392.27" y2="568.61" stroke="#1a1a1a" stroke-width="1.0" />
<line x1="390.27" y1="596.76" x2="390.27" y2="587.66" stroke="#1a1a1a" stroke-width="1.0" />
<line x1="388.27" y1="587.66" x2="392.27" y2="587.66" stroke="#1a1a1a" stroke-width="1.0" />
<line x1="425.46" y1="578.47" x2="425.46" y2="575.56" stroke="#1a1a1a" stroke-width="1.0" />
<line x1="423.46" y1="575.56" x2="427.46" y2="575.56" stroke="#1a1a1a" stroke-width="1.0" />
<line x1="425.46" y1="632.33" x2="425.46" y2="629.51" stroke="#1a1a1a" stroke-width="1.0" />
<line x1="423.46" y1="629.51" x2="427.46" y2="629.51" stroke="#1a1a1a" stroke-width="1.0" />
<line x1="437.19" y1="578.47" x2="437.19" y2="575.56" stroke="#1a1a1a" stroke-width="1.0" />
<line x1="435.19" y1="575.56" x2="439.19" y2="575.56" stroke="#1a1a1a" stroke-width="1.0" />
<line x1="437.19" y1="589.45" x2="437.19" y2="586.25" stroke="#1a1a1a" stroke-width="1.0" />
<line x1="435.19" y1="586.25" x2="439.19" y2="586.25" stroke="#1a1a1a" stroke-width="1.0" />
<line x1="276.40" y1="556.50" x2="276.40" y2="672.90" stroke="#1a1a1a" stroke-width="1.3" />
<line x1="275.80" y1="672.30" x2="445.19" y2="672.30" stroke="#1a1a1a" stroke-width="1.3" />
<line x1="273.40" y1="672.30" x2="276.40" y2="672.30" stroke="#1a1a1a" stroke-width="1.0" />
<text x="264.86" y="675.46" font-size="9.20" fill="#141414" textLength="4.89" lengthAdjust="spacingAndGlyphs">0</text>
<line x1="273.40" y1="653.53" x2="276.40" y2="653.53" stroke="#1a1a1a" stroke-width="1.0" />
<text x="259.96" y="656.70" font-size="9.20" fill="#141414" textLength="9.79" lengthAdjust="spacingAndGlyphs">20</text>
<line x1="273.40" y1="634.77" x2="276.40" y2="634.77" stroke="#1a1a1a" stroke-width="1.0" />
<text x="260.20" y="637.93" font-size="9.20" fill="#141414" textLength="9.53" lengthAdjust="spacingAndGlyphs">40</text>
<line x1="273.40" y1="616.00" x2="276.40" y2="616.00" stroke="#1a1a1a" stroke-width="1.0" />
<text x="259.95" y="619.16" font-size="9.20" fill="#141414" textLength="9.79" lengthAdjust="spacingAndGlyphs">60</text>
<line x1="273.40" y1="597.23" x2="276.40" y2="597.23" stroke="#1a1a1a" stroke-width="1.0" />
<text x="260.02" y="600.40" font-size="9.20" fill="#141414" textLength="9.72" lengthAdjust="spacingAndGlyphs">80</text>
<line x1="273.40" y1="578.47" x2="276.40" y2="578.47" stroke="#1a1a1a" stroke-width="1.0" />
<text x="255.13" y="581.63" font-size="9.20" fill="#141414" textLength="14.61" lengthAdjust="spacingAndGlyphs">100</text>
<line x1="273.40" y1="559.70" x2="276.40" y2="559.70" stroke="#1a1a1a" stroke-width="1.0" />
<text x="255.13" y="562.86" font-size="9.20" fill="#141414" textLength="14.61" lengthAdjust="spacingAndGlyphs">120</text>
<line x1="284.70" y1="672.30" x2="284.70" y2="675.30" stroke="#1a1a1a" stroke-width="1.0" />
<line x1="296.43" y1="672.30" x2="296.43" y2="675.30" stroke="#1a1a1a" stroke-width="1.0" />
<line x1="308.16" y1="672.30" x2="308.16" y2="675.30" stroke="#1a1a1a" stroke-width="1.0" />
<line x1="319.89" y1="672.30" x2="319.89" y2="675.30" stroke="#1a1a1a" stroke-width="1.0" />
<line x1="331.62" y1="672.30" x2="331.62" y2="675.30" stroke="#1a1a1a" stroke-width="1.0" />
<line x1="343.35" y1="672.30" x2="343.35" y2="675.30" stroke="#1a1a1a" stroke-width="1.0" />
<line x1="355.08" y1="672.30" x2="355.08" y2="675.30" stroke="#1a1a1a" stroke-width="1.0" />
<line x1="366.81" y1="672.30" x2="366.81" y2="675.30" stroke="#1a1a1a" stroke-width="1.0" />
<line x1="378.54" y1="672.30" x2="378.54" y2="675.30" stroke="#1a1a1a" stroke-width="1.0" />
<line x1="390.27" y1="672.30" x2="390.27" y2="675.30" stroke="#1a1a1a" stroke-width="1.0" />
<line x1="402.00" y1="672.30" x2="402.00" y2="675.30" stroke="#1a1a1a" stroke-width="1.0" />
<line x1="413.73" y1="672.30" x2="413.73" y2="675.30" stroke="#1a1a1a" stroke-width="1.0" />
<line x1="425.46" y1="672.30" x2="425.46" y2="675.30" stroke="#1a1a1a" stroke-width="1.0" />
<line x1="437.19" y1="672.30" x2="437.19" y2="675.30" stroke="#1a1a1a" stroke-width="1.0" />
<text x="282.14" y="686.30" font-size="9.20" fill="#141414" textLength="5.12" lengthAdjust="spacingAndGlyphs">0</text>
<text x="291.88" y="686.30" font-size="9.20" fill="#141414" textLength="8.81" lengthAdjust="spacingAndGlyphs">10</text>
<text x="303.49" y="686.30" font-size="9.20" fill="#141414" textLength="9.24" lengthAdjust="spacingAndGlyphs">20</text>
<text x="329.06" y="686.30" font-size="9.20" fill="#141414" textLength="5.12" lengthAdjust="spacingAndGlyphs">0</text>
<text x="338.80" y="686.30" font-size="9.20" fill="#141414" textLength="8.81" lengthAdjust="spacingAndGlyphs">10</text>
<text x="350.41" y="686.30" font-size="9.20" fill="#141414" textLength="9.24" lengthAdjust="spacingAndGlyphs">20</text>
<text x="375.98" y="686.30" font-size="9.20" fill="#141414" textLength="5.12" lengthAdjust="spacingAndGlyphs">0</text>
<text x="385.72" y="686.30" font-size="9.20" fill="#141414" textLength="8.81" lengthAdjust="spacingAndGlyphs">10</text>
<text x="422.90" y="686.30" font-size="9.20" fill="#141414" textLength="5.12" lengthAdjust="spacingAndGlyphs">0</text>
<text x="432.64" y="686.30" font-size="9.20" fill="#141414" textLength="8.81" lengthAdjust="spacingAndGlyphs">10</text>
<text x="285.58" y="562.80" font-size="9.60" fill="#141414" textLength="21.31" lengthAdjust="spacingAndGlyphs">Day0</text>
<text x="332.50" y="562.80" font-size="9.60" fill="#141414" textLength="21.35" lengthAdjust="spacingAndGlyphs">Day3</text>
<text x="373.56" y="562.80" font-size="9.60" fill="#141414" textLength="21.33" lengthAdjust="spacingAndGlyphs">Day5</text>
<text x="420.47" y="562.80" font-size="9.60" fill="#141414" textLength="21.41" lengthAdjust="spacingAndGlyphs">Day7</text>
<text x="326.35" y="701.00" font-size="10.60" fill="#141414" textLength="70.39" lengthAdjust="spacingAndGlyphs">Hematoxylin [μM]</text>
<text x="-0.31" y="0" font-size="10.20" fill="#141414" textLength="59.06" lengthAdjust="spacingAndGlyphs" transform="translate(249.30 643.10) rotate(-90)">% of population</text>
<rect x="276.80" y="708.80" width="8.50" height="6.90" fill="#6aa844" stroke="none" stroke-width="0"/>
<rect x="276.80" y="721.20" width="8.50" height="7.00" fill="#a6022c" stroke="none" stroke-width="0"/>
<text x="288.32" y="715.00" font-size="9.00" fill="#141414" textLength="94.04" lengthAdjust="spacingAndGlyphs">Ba/F3 MPL CALR mutant</text>
<text x="288.34" y="727.30" font-size="9.00" fill="#141414" textLength="79.15" lengthAdjust="spacingAndGlyphs">Ba/F3 MPL CALR WT</text>
<rect x="0.5" y="0.5" width="519" height="736" fill="none" stroke="#000" stroke-width="1.2"/>
</svg>
</body></html>
